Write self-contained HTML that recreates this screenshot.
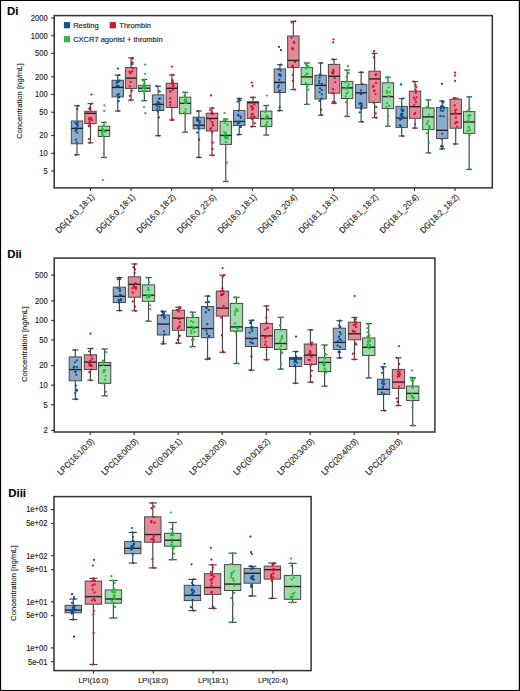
<!DOCTYPE html>
<html><head><meta charset="utf-8"><style>
html,body{margin:0;padding:0;background:#fff;}
body{width:520px;height:691px;overflow:hidden;}
svg{display:block;}
text{font-family:"Liberation Sans",sans-serif;fill:#222;stroke:#222;stroke-width:0.14px;}
.tl{font-size:8.4px;}
.tx{font-size:7.6px;}
.xl{font-size:8.5px;}
.yt{font-size:8.1px;}
.lg{font-size:7.5px;}
.pl{font-size:11.4px;font-weight:bold;fill:#000;}
.w{stroke:#4a4a4a;stroke-width:1.2;}
.b{stroke:#4a4a4a;stroke-width:1.0;fill-opacity:1;}
.m{stroke:#262626;stroke-width:1.4;}
.ax{stroke:#333;stroke-width:1.1;}
.fr{fill:none;stroke:#333;stroke-width:1.5;}
</style></head><body>
<svg width="520" height="691" viewBox="0 0 520 691">
<rect x="0" y="0" width="520" height="691" fill="#fff"/>
<text x="7" y="15" class="pl">Di</text>
<line x1="51.20" y1="18.06" x2="54.20" y2="18.06" class="ax"/>
<text x="0" y="0" class="tl" text-anchor="end" transform="translate(47.60,20.86) scale(0.9,1)">2000</text>
<line x1="51.20" y1="35.75" x2="54.20" y2="35.75" class="ax"/>
<text x="0" y="0" class="tl" text-anchor="end" transform="translate(47.60,38.55) scale(0.9,1)">1000</text>
<line x1="51.20" y1="53.44" x2="54.20" y2="53.44" class="ax"/>
<text x="0" y="0" class="tl" text-anchor="end" transform="translate(47.60,56.24) scale(0.9,1)">500</text>
<line x1="51.20" y1="76.81" x2="54.20" y2="76.81" class="ax"/>
<text x="0" y="0" class="tl" text-anchor="end" transform="translate(47.60,79.61) scale(0.9,1)">200</text>
<line x1="51.20" y1="94.50" x2="54.20" y2="94.50" class="ax"/>
<text x="0" y="0" class="tl" text-anchor="end" transform="translate(47.60,97.30) scale(0.9,1)">100</text>
<line x1="51.20" y1="112.19" x2="54.20" y2="112.19" class="ax"/>
<text x="0" y="0" class="tl" text-anchor="end" transform="translate(47.60,114.99) scale(0.9,1)">50</text>
<line x1="51.20" y1="135.56" x2="54.20" y2="135.56" class="ax"/>
<text x="0" y="0" class="tl" text-anchor="end" transform="translate(47.60,138.36) scale(0.9,1)">20</text>
<line x1="51.20" y1="153.25" x2="54.20" y2="153.25" class="ax"/>
<text x="0" y="0" class="tl" text-anchor="end" transform="translate(47.60,156.05) scale(0.9,1)">10</text>
<line x1="51.20" y1="170.94" x2="54.20" y2="170.94" class="ax"/>
<text x="0" y="0" class="tl" text-anchor="end" transform="translate(47.60,173.74) scale(0.9,1)">5</text>
<text x="0" y="0" class="yt" text-anchor="middle" transform="translate(21.90,101.20) rotate(-90) scale(0.95,1)">Concentration [ng/mL]</text>
<line x1="77.00" y1="105.80" x2="77.00" y2="121.00" class="w"/>
<line x1="77.00" y1="143.75" x2="77.00" y2="154.80" class="w"/>
<line x1="74.15" y1="105.80" x2="79.85" y2="105.80" class="w"/>
<line x1="74.15" y1="154.80" x2="79.85" y2="154.80" class="w"/>
<rect x="71.30" y="121.00" width="11.40" height="22.75" fill="#8dabc7" class="b"/>
<line x1="71.30" y1="128.40" x2="82.70" y2="128.40" class="m"/>
<line x1="90.50" y1="103.60" x2="90.50" y2="111.30" class="w"/>
<line x1="90.50" y1="123.60" x2="90.50" y2="142.80" class="w"/>
<line x1="87.65" y1="103.60" x2="93.35" y2="103.60" class="w"/>
<line x1="87.65" y1="142.80" x2="93.35" y2="142.80" class="w"/>
<rect x="84.80" y="111.30" width="11.40" height="12.30" fill="#e28a98" class="b"/>
<line x1="84.80" y1="113.30" x2="96.20" y2="113.30" class="m"/>
<line x1="104.00" y1="122.40" x2="104.00" y2="126.20" class="w"/>
<line x1="104.00" y1="136.50" x2="104.00" y2="157.50" class="w"/>
<line x1="101.15" y1="122.40" x2="106.85" y2="122.40" class="w"/>
<line x1="101.15" y1="157.50" x2="106.85" y2="157.50" class="w"/>
<rect x="98.30" y="126.20" width="11.40" height="10.30" fill="#9ddca7" class="b"/>
<line x1="98.30" y1="130.40" x2="109.70" y2="130.40" class="m"/>
<line x1="117.75" y1="75.20" x2="117.75" y2="80.30" class="w"/>
<line x1="117.75" y1="96.90" x2="117.75" y2="111.00" class="w"/>
<line x1="114.90" y1="75.20" x2="120.60" y2="75.20" class="w"/>
<line x1="114.90" y1="111.00" x2="120.60" y2="111.00" class="w"/>
<rect x="112.05" y="80.30" width="11.40" height="16.60" fill="#8dabc7" class="b"/>
<line x1="112.05" y1="87.40" x2="123.45" y2="87.40" class="m"/>
<line x1="131.05" y1="57.90" x2="131.05" y2="67.60" class="w"/>
<line x1="131.05" y1="88.40" x2="131.05" y2="100.10" class="w"/>
<line x1="128.20" y1="57.90" x2="133.90" y2="57.90" class="w"/>
<line x1="128.20" y1="100.10" x2="133.90" y2="100.10" class="w"/>
<rect x="125.35" y="67.60" width="11.40" height="20.80" fill="#e28a98" class="b"/>
<line x1="125.35" y1="78.10" x2="136.75" y2="78.10" class="m"/>
<line x1="144.35" y1="79.50" x2="144.35" y2="85.30" class="w"/>
<line x1="144.35" y1="91.40" x2="144.35" y2="100.70" class="w"/>
<line x1="141.50" y1="79.50" x2="147.20" y2="79.50" class="w"/>
<line x1="141.50" y1="100.70" x2="147.20" y2="100.70" class="w"/>
<rect x="138.65" y="85.30" width="11.40" height="6.10" fill="#9ddca7" class="b"/>
<line x1="138.65" y1="88.20" x2="150.05" y2="88.20" class="m"/>
<line x1="158.10" y1="86.20" x2="158.10" y2="94.90" class="w"/>
<line x1="158.10" y1="110.50" x2="158.10" y2="135.70" class="w"/>
<line x1="155.25" y1="86.20" x2="160.95" y2="86.20" class="w"/>
<line x1="155.25" y1="135.70" x2="160.95" y2="135.70" class="w"/>
<rect x="152.40" y="94.90" width="11.40" height="15.60" fill="#8dabc7" class="b"/>
<line x1="152.40" y1="104.40" x2="163.80" y2="104.40" class="m"/>
<line x1="171.85" y1="74.90" x2="171.85" y2="83.30" class="w"/>
<line x1="171.85" y1="107.50" x2="171.85" y2="120.00" class="w"/>
<line x1="169.00" y1="74.90" x2="174.70" y2="74.90" class="w"/>
<line x1="169.00" y1="120.00" x2="174.70" y2="120.00" class="w"/>
<rect x="166.15" y="83.30" width="11.40" height="24.20" fill="#e28a98" class="b"/>
<line x1="166.15" y1="88.30" x2="177.55" y2="88.30" class="m"/>
<line x1="185.10" y1="92.30" x2="185.10" y2="97.20" class="w"/>
<line x1="185.10" y1="113.70" x2="185.10" y2="132.20" class="w"/>
<line x1="182.25" y1="92.30" x2="187.95" y2="92.30" class="w"/>
<line x1="182.25" y1="132.20" x2="187.95" y2="132.20" class="w"/>
<rect x="179.40" y="97.20" width="11.40" height="16.50" fill="#9ddca7" class="b"/>
<line x1="179.40" y1="103.30" x2="190.80" y2="103.30" class="m"/>
<line x1="198.85" y1="111.00" x2="198.85" y2="117.20" class="w"/>
<line x1="198.85" y1="128.80" x2="198.85" y2="157.40" class="w"/>
<line x1="196.00" y1="111.00" x2="201.70" y2="111.00" class="w"/>
<line x1="196.00" y1="157.40" x2="201.70" y2="157.40" class="w"/>
<rect x="193.15" y="117.20" width="11.40" height="11.60" fill="#8dabc7" class="b"/>
<line x1="193.15" y1="125.20" x2="204.55" y2="125.20" class="m"/>
<line x1="212.00" y1="108.00" x2="212.00" y2="113.20" class="w"/>
<line x1="212.00" y1="131.00" x2="212.00" y2="155.30" class="w"/>
<line x1="209.15" y1="108.00" x2="214.85" y2="108.00" class="w"/>
<line x1="209.15" y1="155.30" x2="214.85" y2="155.30" class="w"/>
<rect x="206.30" y="113.20" width="11.40" height="17.80" fill="#e28a98" class="b"/>
<line x1="206.30" y1="118.40" x2="217.70" y2="118.40" class="m"/>
<line x1="225.75" y1="119.00" x2="225.75" y2="121.30" class="w"/>
<line x1="225.75" y1="144.40" x2="225.75" y2="181.50" class="w"/>
<line x1="222.90" y1="119.00" x2="228.60" y2="119.00" class="w"/>
<line x1="222.90" y1="181.50" x2="228.60" y2="181.50" class="w"/>
<rect x="220.05" y="121.30" width="11.40" height="23.10" fill="#9ddca7" class="b"/>
<line x1="220.05" y1="135.40" x2="231.45" y2="135.40" class="m"/>
<line x1="239.25" y1="98.50" x2="239.25" y2="110.40" class="w"/>
<line x1="239.25" y1="125.40" x2="239.25" y2="134.60" class="w"/>
<line x1="236.40" y1="98.50" x2="242.10" y2="98.50" class="w"/>
<line x1="236.40" y1="134.60" x2="242.10" y2="134.60" class="w"/>
<rect x="233.55" y="110.40" width="11.40" height="15.00" fill="#8dabc7" class="b"/>
<line x1="233.55" y1="121.50" x2="244.95" y2="121.50" class="m"/>
<line x1="252.95" y1="97.40" x2="252.95" y2="101.70" class="w"/>
<line x1="252.95" y1="118.40" x2="252.95" y2="126.60" class="w"/>
<line x1="250.10" y1="97.40" x2="255.80" y2="97.40" class="w"/>
<line x1="250.10" y1="126.60" x2="255.80" y2="126.60" class="w"/>
<rect x="247.25" y="101.70" width="11.40" height="16.70" fill="#e28a98" class="b"/>
<line x1="247.25" y1="102.70" x2="258.65" y2="102.70" class="m"/>
<line x1="266.20" y1="105.50" x2="266.20" y2="111.10" class="w"/>
<line x1="266.20" y1="126.60" x2="266.20" y2="135.10" class="w"/>
<line x1="263.35" y1="105.50" x2="269.05" y2="105.50" class="w"/>
<line x1="263.35" y1="135.10" x2="269.05" y2="135.10" class="w"/>
<rect x="260.50" y="111.10" width="11.40" height="15.50" fill="#9ddca7" class="b"/>
<line x1="260.50" y1="118.60" x2="271.90" y2="118.60" class="m"/>
<line x1="279.90" y1="64.70" x2="279.90" y2="69.00" class="w"/>
<line x1="279.90" y1="92.50" x2="279.90" y2="110.60" class="w"/>
<line x1="277.05" y1="64.70" x2="282.75" y2="64.70" class="w"/>
<line x1="277.05" y1="110.60" x2="282.75" y2="110.60" class="w"/>
<rect x="274.20" y="69.00" width="11.40" height="23.50" fill="#8dabc7" class="b"/>
<line x1="274.20" y1="82.40" x2="285.60" y2="82.40" class="m"/>
<line x1="293.35" y1="21.30" x2="293.35" y2="36.00" class="w"/>
<line x1="293.35" y1="67.60" x2="293.35" y2="89.60" class="w"/>
<line x1="290.50" y1="21.30" x2="296.20" y2="21.30" class="w"/>
<line x1="290.50" y1="89.60" x2="296.20" y2="89.60" class="w"/>
<rect x="287.65" y="36.00" width="11.40" height="31.60" fill="#e28a98" class="b"/>
<line x1="287.65" y1="60.40" x2="299.05" y2="60.40" class="m"/>
<line x1="306.85" y1="63.00" x2="306.85" y2="67.60" class="w"/>
<line x1="306.85" y1="84.50" x2="306.85" y2="104.40" class="w"/>
<line x1="304.00" y1="63.00" x2="309.70" y2="63.00" class="w"/>
<line x1="304.00" y1="104.40" x2="309.70" y2="104.40" class="w"/>
<rect x="301.15" y="67.60" width="11.40" height="16.90" fill="#9ddca7" class="b"/>
<line x1="301.15" y1="76.90" x2="312.55" y2="76.90" class="m"/>
<line x1="320.60" y1="63.00" x2="320.60" y2="75.30" class="w"/>
<line x1="320.60" y1="99.00" x2="320.60" y2="115.10" class="w"/>
<line x1="317.75" y1="63.00" x2="323.45" y2="63.00" class="w"/>
<line x1="317.75" y1="115.10" x2="323.45" y2="115.10" class="w"/>
<rect x="314.90" y="75.30" width="11.40" height="23.70" fill="#8dabc7" class="b"/>
<line x1="314.90" y1="85.40" x2="326.30" y2="85.40" class="m"/>
<line x1="334.10" y1="59.40" x2="334.10" y2="64.40" class="w"/>
<line x1="334.10" y1="93.20" x2="334.10" y2="103.20" class="w"/>
<line x1="331.25" y1="59.40" x2="336.95" y2="59.40" class="w"/>
<line x1="331.25" y1="103.20" x2="336.95" y2="103.20" class="w"/>
<rect x="328.40" y="64.40" width="11.40" height="28.80" fill="#e28a98" class="b"/>
<line x1="328.40" y1="76.30" x2="339.80" y2="76.30" class="m"/>
<line x1="347.15" y1="70.10" x2="347.15" y2="81.40" class="w"/>
<line x1="347.15" y1="98.50" x2="347.15" y2="116.40" class="w"/>
<line x1="344.30" y1="70.10" x2="350.00" y2="70.10" class="w"/>
<line x1="344.30" y1="116.40" x2="350.00" y2="116.40" class="w"/>
<rect x="341.45" y="81.40" width="11.40" height="17.10" fill="#9ddca7" class="b"/>
<line x1="341.45" y1="87.90" x2="352.85" y2="87.90" class="m"/>
<line x1="361.15" y1="72.30" x2="361.15" y2="84.60" class="w"/>
<line x1="361.15" y1="108.10" x2="361.15" y2="121.80" class="w"/>
<line x1="358.30" y1="72.30" x2="364.00" y2="72.30" class="w"/>
<line x1="358.30" y1="121.80" x2="364.00" y2="121.80" class="w"/>
<rect x="355.45" y="84.60" width="11.40" height="23.50" fill="#8dabc7" class="b"/>
<line x1="355.45" y1="92.80" x2="366.85" y2="92.80" class="m"/>
<line x1="374.60" y1="53.40" x2="374.60" y2="71.20" class="w"/>
<line x1="374.60" y1="102.40" x2="374.60" y2="117.70" class="w"/>
<line x1="371.75" y1="53.40" x2="377.45" y2="53.40" class="w"/>
<line x1="371.75" y1="117.70" x2="377.45" y2="117.70" class="w"/>
<rect x="368.90" y="71.20" width="11.40" height="31.20" fill="#e28a98" class="b"/>
<line x1="368.90" y1="78.90" x2="380.30" y2="78.90" class="m"/>
<line x1="387.90" y1="77.30" x2="387.90" y2="82.80" class="w"/>
<line x1="387.90" y1="108.60" x2="387.90" y2="126.20" class="w"/>
<line x1="385.05" y1="77.30" x2="390.75" y2="77.30" class="w"/>
<line x1="385.05" y1="126.20" x2="390.75" y2="126.20" class="w"/>
<rect x="382.20" y="82.80" width="11.40" height="25.80" fill="#9ddca7" class="b"/>
<line x1="382.20" y1="96.60" x2="393.60" y2="96.60" class="m"/>
<line x1="401.70" y1="98.50" x2="401.70" y2="106.40" class="w"/>
<line x1="401.70" y1="127.40" x2="401.70" y2="136.00" class="w"/>
<line x1="398.85" y1="98.50" x2="404.55" y2="98.50" class="w"/>
<line x1="398.85" y1="136.00" x2="404.55" y2="136.00" class="w"/>
<rect x="396.00" y="106.40" width="11.40" height="21.00" fill="#8dabc7" class="b"/>
<line x1="396.00" y1="118.00" x2="407.40" y2="118.00" class="m"/>
<line x1="415.05" y1="81.50" x2="415.05" y2="91.20" class="w"/>
<line x1="415.05" y1="118.30" x2="415.05" y2="128.10" class="w"/>
<line x1="412.20" y1="81.50" x2="417.90" y2="81.50" class="w"/>
<line x1="412.20" y1="128.10" x2="417.90" y2="128.10" class="w"/>
<rect x="409.35" y="91.20" width="11.40" height="27.10" fill="#e28a98" class="b"/>
<line x1="409.35" y1="106.70" x2="420.75" y2="106.70" class="m"/>
<line x1="428.40" y1="99.90" x2="428.40" y2="107.90" class="w"/>
<line x1="428.40" y1="129.60" x2="428.40" y2="152.90" class="w"/>
<line x1="425.55" y1="99.90" x2="431.25" y2="99.90" class="w"/>
<line x1="425.55" y1="152.90" x2="431.25" y2="152.90" class="w"/>
<rect x="422.70" y="107.90" width="11.40" height="21.70" fill="#9ddca7" class="b"/>
<line x1="422.70" y1="116.90" x2="434.10" y2="116.90" class="m"/>
<line x1="442.15" y1="101.10" x2="442.15" y2="107.40" class="w"/>
<line x1="442.15" y1="138.50" x2="442.15" y2="148.90" class="w"/>
<line x1="439.30" y1="101.10" x2="445.00" y2="101.10" class="w"/>
<line x1="439.30" y1="148.90" x2="445.00" y2="148.90" class="w"/>
<rect x="436.45" y="107.40" width="11.40" height="31.10" fill="#8dabc7" class="b"/>
<line x1="436.45" y1="130.30" x2="447.85" y2="130.30" class="m"/>
<line x1="455.70" y1="98.20" x2="455.70" y2="99.20" class="w"/>
<line x1="455.70" y1="128.20" x2="455.70" y2="144.00" class="w"/>
<line x1="452.85" y1="98.20" x2="458.55" y2="98.20" class="w"/>
<line x1="452.85" y1="144.00" x2="458.55" y2="144.00" class="w"/>
<rect x="450.00" y="99.20" width="11.40" height="29.00" fill="#e28a98" class="b"/>
<line x1="450.00" y1="113.80" x2="461.40" y2="113.80" class="m"/>
<line x1="469.15" y1="96.80" x2="469.15" y2="111.60" class="w"/>
<line x1="469.15" y1="133.40" x2="469.15" y2="169.40" class="w"/>
<line x1="466.30" y1="96.80" x2="472.00" y2="96.80" class="w"/>
<line x1="466.30" y1="169.40" x2="472.00" y2="169.40" class="w"/>
<rect x="463.45" y="111.60" width="11.40" height="21.80" fill="#9ddca7" class="b"/>
<line x1="463.45" y1="122.00" x2="474.85" y2="122.00" class="m"/>
<circle cx="78.14" cy="105.80" r="1.12" fill="#0b4d91"/>
<circle cx="75.85" cy="154.80" r="1.12" fill="#0b4d91"/>
<circle cx="77.29" cy="124.43" r="1.12" fill="#0b4d91"/>
<circle cx="77.50" cy="122.65" r="1.12" fill="#0b4d91"/>
<circle cx="76.54" cy="129.32" r="1.12" fill="#0b4d91"/>
<circle cx="77.17" cy="132.54" r="1.12" fill="#0b4d91"/>
<circle cx="75.43" cy="130.87" r="1.12" fill="#0b4d91"/>
<circle cx="75.41" cy="123.06" r="1.12" fill="#0b4d91"/>
<circle cx="75.94" cy="139.81" r="1.12" fill="#0b4d91"/>
<circle cx="77.65" cy="126.08" r="1.12" fill="#0b4d91"/>
<circle cx="76.74" cy="142.56" r="1.12" fill="#0b4d91"/>
<circle cx="76.33" cy="130.02" r="1.12" fill="#0b4d91"/>
<circle cx="77.31" cy="109.09" r="1.12" fill="#0b4d91"/>
<circle cx="76.83" cy="124.28" r="1.12" fill="#0b4d91"/>
<circle cx="76.28" cy="128.02" r="1.12" fill="#0b4d91"/>
<circle cx="91.66" cy="103.60" r="1.12" fill="#d90d2b"/>
<circle cx="89.72" cy="142.80" r="1.12" fill="#d90d2b"/>
<circle cx="90.09" cy="125.61" r="1.12" fill="#d90d2b"/>
<circle cx="91.11" cy="117.76" r="1.12" fill="#d90d2b"/>
<circle cx="88.78" cy="126.22" r="1.12" fill="#d90d2b"/>
<circle cx="90.36" cy="109.39" r="1.12" fill="#d90d2b"/>
<circle cx="89.30" cy="108.85" r="1.12" fill="#d90d2b"/>
<circle cx="89.12" cy="119.52" r="1.12" fill="#d90d2b"/>
<circle cx="88.91" cy="139.12" r="1.12" fill="#d90d2b"/>
<circle cx="91.47" cy="119.85" r="1.12" fill="#d90d2b"/>
<circle cx="89.17" cy="118.43" r="1.12" fill="#d90d2b"/>
<circle cx="89.59" cy="121.63" r="1.12" fill="#d90d2b"/>
<circle cx="90.11" cy="107.30" r="1.12" fill="#d90d2b"/>
<circle cx="91.84" cy="119.93" r="1.12" fill="#d90d2b"/>
<circle cx="88.99" cy="123.52" r="1.12" fill="#d90d2b"/>
<circle cx="91.50" cy="94.50" r="1.12" fill="#d90d2b"/>
<circle cx="105.01" cy="122.40" r="1.12" fill="#22b838"/>
<circle cx="105.35" cy="157.50" r="1.12" fill="#22b838"/>
<circle cx="105.07" cy="131.86" r="1.12" fill="#22b838"/>
<circle cx="103.61" cy="153.12" r="1.12" fill="#22b838"/>
<circle cx="103.64" cy="130.48" r="1.12" fill="#22b838"/>
<circle cx="102.57" cy="135.31" r="1.12" fill="#22b838"/>
<circle cx="104.48" cy="125.96" r="1.12" fill="#22b838"/>
<circle cx="102.42" cy="128.60" r="1.12" fill="#22b838"/>
<circle cx="102.44" cy="132.27" r="1.12" fill="#22b838"/>
<circle cx="102.95" cy="126.24" r="1.12" fill="#22b838"/>
<circle cx="102.78" cy="130.00" r="1.12" fill="#22b838"/>
<circle cx="103.42" cy="136.02" r="1.12" fill="#22b838"/>
<circle cx="102.39" cy="131.51" r="1.12" fill="#22b838"/>
<circle cx="102.20" cy="133.16" r="1.12" fill="#22b838"/>
<circle cx="102.74" cy="135.47" r="1.12" fill="#22b838"/>
<circle cx="104.40" cy="105.30" r="1.12" fill="#22b838"/>
<circle cx="104.20" cy="111.00" r="1.12" fill="#22b838"/>
<circle cx="102.80" cy="180.00" r="1.12" fill="#22b838"/>
<circle cx="119.06" cy="75.20" r="1.12" fill="#0b4d91"/>
<circle cx="118.46" cy="111.00" r="1.12" fill="#0b4d91"/>
<circle cx="116.89" cy="86.34" r="1.12" fill="#0b4d91"/>
<circle cx="117.27" cy="94.81" r="1.12" fill="#0b4d91"/>
<circle cx="116.55" cy="82.77" r="1.12" fill="#0b4d91"/>
<circle cx="118.73" cy="86.07" r="1.12" fill="#0b4d91"/>
<circle cx="117.87" cy="82.34" r="1.12" fill="#0b4d91"/>
<circle cx="118.75" cy="101.06" r="1.12" fill="#0b4d91"/>
<circle cx="117.14" cy="81.73" r="1.12" fill="#0b4d91"/>
<circle cx="116.75" cy="85.99" r="1.12" fill="#0b4d91"/>
<circle cx="118.87" cy="94.06" r="1.12" fill="#0b4d91"/>
<circle cx="119.50" cy="80.68" r="1.12" fill="#0b4d91"/>
<circle cx="119.02" cy="97.55" r="1.12" fill="#0b4d91"/>
<circle cx="118.85" cy="80.75" r="1.12" fill="#0b4d91"/>
<circle cx="118.90" cy="96.54" r="1.12" fill="#0b4d91"/>
<circle cx="117.90" cy="68.50" r="1.12" fill="#0b4d91"/>
<circle cx="132.09" cy="57.90" r="1.12" fill="#d90d2b"/>
<circle cx="130.45" cy="100.10" r="1.12" fill="#d90d2b"/>
<circle cx="132.13" cy="64.22" r="1.12" fill="#d90d2b"/>
<circle cx="132.75" cy="68.20" r="1.12" fill="#d90d2b"/>
<circle cx="130.68" cy="73.41" r="1.12" fill="#d90d2b"/>
<circle cx="130.69" cy="82.00" r="1.12" fill="#d90d2b"/>
<circle cx="132.66" cy="58.86" r="1.12" fill="#d90d2b"/>
<circle cx="131.86" cy="90.73" r="1.12" fill="#d90d2b"/>
<circle cx="129.86" cy="72.32" r="1.12" fill="#d90d2b"/>
<circle cx="129.71" cy="71.85" r="1.12" fill="#d90d2b"/>
<circle cx="129.79" cy="86.33" r="1.12" fill="#d90d2b"/>
<circle cx="132.51" cy="62.70" r="1.12" fill="#d90d2b"/>
<circle cx="132.15" cy="62.60" r="1.12" fill="#d90d2b"/>
<circle cx="129.78" cy="95.79" r="1.12" fill="#d90d2b"/>
<circle cx="132.23" cy="71.31" r="1.12" fill="#d90d2b"/>
<circle cx="144.43" cy="79.50" r="1.12" fill="#22b838"/>
<circle cx="142.62" cy="100.70" r="1.12" fill="#22b838"/>
<circle cx="144.13" cy="93.14" r="1.12" fill="#22b838"/>
<circle cx="143.21" cy="86.10" r="1.12" fill="#22b838"/>
<circle cx="142.56" cy="91.22" r="1.12" fill="#22b838"/>
<circle cx="145.43" cy="88.51" r="1.12" fill="#22b838"/>
<circle cx="143.17" cy="80.64" r="1.12" fill="#22b838"/>
<circle cx="144.25" cy="84.66" r="1.12" fill="#22b838"/>
<circle cx="145.16" cy="86.77" r="1.12" fill="#22b838"/>
<circle cx="144.55" cy="86.88" r="1.12" fill="#22b838"/>
<circle cx="143.72" cy="86.10" r="1.12" fill="#22b838"/>
<circle cx="144.42" cy="83.64" r="1.12" fill="#22b838"/>
<circle cx="144.55" cy="90.82" r="1.12" fill="#22b838"/>
<circle cx="145.37" cy="90.90" r="1.12" fill="#22b838"/>
<circle cx="142.93" cy="88.54" r="1.12" fill="#22b838"/>
<circle cx="145.20" cy="64.70" r="1.12" fill="#22b838"/>
<circle cx="145.20" cy="74.00" r="1.12" fill="#22b838"/>
<circle cx="144.00" cy="107.00" r="1.12" fill="#22b838"/>
<circle cx="145.30" cy="113.20" r="1.12" fill="#22b838"/>
<circle cx="156.56" cy="86.20" r="1.12" fill="#0b4d91"/>
<circle cx="158.71" cy="135.70" r="1.12" fill="#0b4d91"/>
<circle cx="159.12" cy="98.78" r="1.12" fill="#0b4d91"/>
<circle cx="159.53" cy="106.95" r="1.12" fill="#0b4d91"/>
<circle cx="156.86" cy="103.66" r="1.12" fill="#0b4d91"/>
<circle cx="158.88" cy="117.36" r="1.12" fill="#0b4d91"/>
<circle cx="158.68" cy="102.79" r="1.12" fill="#0b4d91"/>
<circle cx="156.81" cy="105.71" r="1.12" fill="#0b4d91"/>
<circle cx="159.48" cy="103.22" r="1.12" fill="#0b4d91"/>
<circle cx="159.78" cy="109.59" r="1.12" fill="#0b4d91"/>
<circle cx="157.09" cy="108.57" r="1.12" fill="#0b4d91"/>
<circle cx="159.73" cy="91.46" r="1.12" fill="#0b4d91"/>
<circle cx="157.73" cy="111.55" r="1.12" fill="#0b4d91"/>
<circle cx="158.05" cy="101.80" r="1.12" fill="#0b4d91"/>
<circle cx="159.86" cy="98.65" r="1.12" fill="#0b4d91"/>
<circle cx="173.36" cy="74.90" r="1.12" fill="#d90d2b"/>
<circle cx="172.10" cy="120.00" r="1.12" fill="#d90d2b"/>
<circle cx="172.57" cy="81.11" r="1.12" fill="#d90d2b"/>
<circle cx="170.37" cy="91.51" r="1.12" fill="#d90d2b"/>
<circle cx="170.26" cy="91.01" r="1.12" fill="#d90d2b"/>
<circle cx="172.53" cy="80.03" r="1.12" fill="#d90d2b"/>
<circle cx="171.58" cy="83.74" r="1.12" fill="#d90d2b"/>
<circle cx="170.31" cy="98.40" r="1.12" fill="#d90d2b"/>
<circle cx="173.43" cy="84.86" r="1.12" fill="#d90d2b"/>
<circle cx="172.33" cy="119.44" r="1.12" fill="#d90d2b"/>
<circle cx="172.94" cy="89.73" r="1.12" fill="#d90d2b"/>
<circle cx="170.35" cy="102.15" r="1.12" fill="#d90d2b"/>
<circle cx="173.13" cy="86.44" r="1.12" fill="#d90d2b"/>
<circle cx="170.29" cy="105.36" r="1.12" fill="#d90d2b"/>
<circle cx="173.16" cy="82.90" r="1.12" fill="#d90d2b"/>
<circle cx="171.80" cy="66.60" r="1.12" fill="#d90d2b"/>
<circle cx="183.68" cy="92.30" r="1.12" fill="#22b838"/>
<circle cx="186.25" cy="132.20" r="1.12" fill="#22b838"/>
<circle cx="184.86" cy="102.80" r="1.12" fill="#22b838"/>
<circle cx="185.08" cy="112.49" r="1.12" fill="#22b838"/>
<circle cx="186.30" cy="99.33" r="1.12" fill="#22b838"/>
<circle cx="184.72" cy="101.13" r="1.12" fill="#22b838"/>
<circle cx="185.12" cy="99.86" r="1.12" fill="#22b838"/>
<circle cx="185.78" cy="100.53" r="1.12" fill="#22b838"/>
<circle cx="186.84" cy="102.23" r="1.12" fill="#22b838"/>
<circle cx="184.53" cy="95.58" r="1.12" fill="#22b838"/>
<circle cx="186.30" cy="102.93" r="1.12" fill="#22b838"/>
<circle cx="185.84" cy="101.33" r="1.12" fill="#22b838"/>
<circle cx="185.59" cy="109.30" r="1.12" fill="#22b838"/>
<circle cx="184.76" cy="100.33" r="1.12" fill="#22b838"/>
<circle cx="184.55" cy="112.62" r="1.12" fill="#22b838"/>
<circle cx="197.77" cy="111.00" r="1.12" fill="#0b4d91"/>
<circle cx="198.87" cy="157.40" r="1.12" fill="#0b4d91"/>
<circle cx="197.07" cy="118.71" r="1.12" fill="#0b4d91"/>
<circle cx="198.00" cy="125.79" r="1.12" fill="#0b4d91"/>
<circle cx="197.37" cy="119.09" r="1.12" fill="#0b4d91"/>
<circle cx="198.49" cy="126.96" r="1.12" fill="#0b4d91"/>
<circle cx="197.20" cy="132.57" r="1.12" fill="#0b4d91"/>
<circle cx="197.13" cy="120.60" r="1.12" fill="#0b4d91"/>
<circle cx="198.15" cy="119.03" r="1.12" fill="#0b4d91"/>
<circle cx="197.89" cy="120.25" r="1.12" fill="#0b4d91"/>
<circle cx="199.16" cy="139.70" r="1.12" fill="#0b4d91"/>
<circle cx="198.96" cy="128.40" r="1.12" fill="#0b4d91"/>
<circle cx="199.75" cy="121.34" r="1.12" fill="#0b4d91"/>
<circle cx="199.42" cy="121.63" r="1.12" fill="#0b4d91"/>
<circle cx="199.63" cy="123.03" r="1.12" fill="#0b4d91"/>
<circle cx="212.45" cy="108.00" r="1.12" fill="#d90d2b"/>
<circle cx="212.65" cy="155.30" r="1.12" fill="#d90d2b"/>
<circle cx="211.96" cy="112.33" r="1.12" fill="#d90d2b"/>
<circle cx="210.21" cy="110.10" r="1.12" fill="#d90d2b"/>
<circle cx="213.07" cy="113.98" r="1.12" fill="#d90d2b"/>
<circle cx="212.89" cy="142.52" r="1.12" fill="#d90d2b"/>
<circle cx="212.01" cy="132.04" r="1.12" fill="#d90d2b"/>
<circle cx="212.13" cy="122.18" r="1.12" fill="#d90d2b"/>
<circle cx="212.57" cy="148.91" r="1.12" fill="#d90d2b"/>
<circle cx="210.44" cy="129.09" r="1.12" fill="#d90d2b"/>
<circle cx="212.85" cy="125.54" r="1.12" fill="#d90d2b"/>
<circle cx="211.11" cy="113.75" r="1.12" fill="#d90d2b"/>
<circle cx="210.47" cy="119.62" r="1.12" fill="#d90d2b"/>
<circle cx="211.16" cy="128.08" r="1.12" fill="#d90d2b"/>
<circle cx="212.83" cy="124.37" r="1.12" fill="#d90d2b"/>
<circle cx="211.00" cy="95.40" r="1.12" fill="#d90d2b"/>
<circle cx="224.67" cy="119.00" r="1.12" fill="#22b838"/>
<circle cx="227.47" cy="181.50" r="1.12" fill="#22b838"/>
<circle cx="227.32" cy="138.39" r="1.12" fill="#22b838"/>
<circle cx="224.01" cy="120.81" r="1.12" fill="#22b838"/>
<circle cx="225.60" cy="137.09" r="1.12" fill="#22b838"/>
<circle cx="226.90" cy="162.69" r="1.12" fill="#22b838"/>
<circle cx="227.44" cy="124.71" r="1.12" fill="#22b838"/>
<circle cx="225.57" cy="138.47" r="1.12" fill="#22b838"/>
<circle cx="224.92" cy="134.42" r="1.12" fill="#22b838"/>
<circle cx="224.71" cy="122.70" r="1.12" fill="#22b838"/>
<circle cx="227.35" cy="136.82" r="1.12" fill="#22b838"/>
<circle cx="224.71" cy="136.91" r="1.12" fill="#22b838"/>
<circle cx="226.04" cy="133.23" r="1.12" fill="#22b838"/>
<circle cx="224.46" cy="132.07" r="1.12" fill="#22b838"/>
<circle cx="225.84" cy="141.94" r="1.12" fill="#22b838"/>
<circle cx="224.50" cy="112.90" r="1.12" fill="#22b838"/>
<circle cx="238.99" cy="98.50" r="1.12" fill="#0b4d91"/>
<circle cx="238.44" cy="134.60" r="1.12" fill="#0b4d91"/>
<circle cx="237.62" cy="101.73" r="1.12" fill="#0b4d91"/>
<circle cx="237.82" cy="123.70" r="1.12" fill="#0b4d91"/>
<circle cx="240.45" cy="100.39" r="1.12" fill="#0b4d91"/>
<circle cx="238.48" cy="110.77" r="1.12" fill="#0b4d91"/>
<circle cx="240.82" cy="117.78" r="1.12" fill="#0b4d91"/>
<circle cx="238.35" cy="114.93" r="1.12" fill="#0b4d91"/>
<circle cx="238.41" cy="115.56" r="1.12" fill="#0b4d91"/>
<circle cx="239.29" cy="123.00" r="1.12" fill="#0b4d91"/>
<circle cx="238.13" cy="121.66" r="1.12" fill="#0b4d91"/>
<circle cx="238.79" cy="99.87" r="1.12" fill="#0b4d91"/>
<circle cx="240.89" cy="126.67" r="1.12" fill="#0b4d91"/>
<circle cx="240.63" cy="116.29" r="1.12" fill="#0b4d91"/>
<circle cx="240.37" cy="127.20" r="1.12" fill="#0b4d91"/>
<circle cx="252.94" cy="97.40" r="1.12" fill="#d90d2b"/>
<circle cx="251.94" cy="126.60" r="1.12" fill="#d90d2b"/>
<circle cx="254.41" cy="116.95" r="1.12" fill="#d90d2b"/>
<circle cx="254.74" cy="123.24" r="1.12" fill="#d90d2b"/>
<circle cx="252.77" cy="113.93" r="1.12" fill="#d90d2b"/>
<circle cx="251.65" cy="114.27" r="1.12" fill="#d90d2b"/>
<circle cx="251.84" cy="106.48" r="1.12" fill="#d90d2b"/>
<circle cx="251.48" cy="117.18" r="1.12" fill="#d90d2b"/>
<circle cx="252.38" cy="109.59" r="1.12" fill="#d90d2b"/>
<circle cx="251.48" cy="106.67" r="1.12" fill="#d90d2b"/>
<circle cx="252.01" cy="119.35" r="1.12" fill="#d90d2b"/>
<circle cx="252.08" cy="106.72" r="1.12" fill="#d90d2b"/>
<circle cx="253.20" cy="108.29" r="1.12" fill="#d90d2b"/>
<circle cx="254.34" cy="104.40" r="1.12" fill="#d90d2b"/>
<circle cx="253.85" cy="116.83" r="1.12" fill="#d90d2b"/>
<circle cx="251.80" cy="82.60" r="1.12" fill="#d90d2b"/>
<circle cx="252.60" cy="85.80" r="1.12" fill="#d90d2b"/>
<circle cx="267.74" cy="105.50" r="1.12" fill="#22b838"/>
<circle cx="267.37" cy="135.10" r="1.12" fill="#22b838"/>
<circle cx="267.48" cy="117.52" r="1.12" fill="#22b838"/>
<circle cx="267.90" cy="116.94" r="1.12" fill="#22b838"/>
<circle cx="265.29" cy="112.06" r="1.12" fill="#22b838"/>
<circle cx="264.79" cy="126.10" r="1.12" fill="#22b838"/>
<circle cx="264.96" cy="118.90" r="1.12" fill="#22b838"/>
<circle cx="266.28" cy="124.47" r="1.12" fill="#22b838"/>
<circle cx="266.86" cy="115.30" r="1.12" fill="#22b838"/>
<circle cx="267.79" cy="117.30" r="1.12" fill="#22b838"/>
<circle cx="267.00" cy="125.89" r="1.12" fill="#22b838"/>
<circle cx="266.73" cy="126.62" r="1.12" fill="#22b838"/>
<circle cx="267.15" cy="122.10" r="1.12" fill="#22b838"/>
<circle cx="266.05" cy="108.71" r="1.12" fill="#22b838"/>
<circle cx="266.39" cy="117.17" r="1.12" fill="#22b838"/>
<circle cx="267.00" cy="95.50" r="1.12" fill="#22b838"/>
<circle cx="280.64" cy="64.70" r="1.12" fill="#0b4d91"/>
<circle cx="279.21" cy="110.60" r="1.12" fill="#0b4d91"/>
<circle cx="278.18" cy="87.38" r="1.12" fill="#0b4d91"/>
<circle cx="279.89" cy="90.62" r="1.12" fill="#0b4d91"/>
<circle cx="280.53" cy="76.14" r="1.12" fill="#0b4d91"/>
<circle cx="279.61" cy="74.92" r="1.12" fill="#0b4d91"/>
<circle cx="279.03" cy="85.42" r="1.12" fill="#0b4d91"/>
<circle cx="280.50" cy="70.65" r="1.12" fill="#0b4d91"/>
<circle cx="281.43" cy="82.70" r="1.12" fill="#0b4d91"/>
<circle cx="278.92" cy="74.25" r="1.12" fill="#0b4d91"/>
<circle cx="278.22" cy="69.25" r="1.12" fill="#0b4d91"/>
<circle cx="279.32" cy="79.83" r="1.12" fill="#0b4d91"/>
<circle cx="279.61" cy="107.35" r="1.12" fill="#0b4d91"/>
<circle cx="280.56" cy="74.52" r="1.12" fill="#0b4d91"/>
<circle cx="278.81" cy="91.57" r="1.12" fill="#0b4d91"/>
<circle cx="279.00" cy="46.90" r="1.12" fill="#0b4d91"/>
<circle cx="281.00" cy="50.20" r="1.12" fill="#0b4d91"/>
<circle cx="295.14" cy="21.30" r="1.12" fill="#d90d2b"/>
<circle cx="294.90" cy="89.60" r="1.12" fill="#d90d2b"/>
<circle cx="292.74" cy="74.97" r="1.12" fill="#d90d2b"/>
<circle cx="292.22" cy="66.65" r="1.12" fill="#d90d2b"/>
<circle cx="294.92" cy="61.91" r="1.12" fill="#d90d2b"/>
<circle cx="294.24" cy="43.00" r="1.12" fill="#d90d2b"/>
<circle cx="291.66" cy="22.41" r="1.12" fill="#d90d2b"/>
<circle cx="293.94" cy="41.92" r="1.12" fill="#d90d2b"/>
<circle cx="292.91" cy="49.18" r="1.12" fill="#d90d2b"/>
<circle cx="292.90" cy="65.98" r="1.12" fill="#d90d2b"/>
<circle cx="292.74" cy="48.43" r="1.12" fill="#d90d2b"/>
<circle cx="292.16" cy="66.78" r="1.12" fill="#d90d2b"/>
<circle cx="291.56" cy="37.64" r="1.12" fill="#d90d2b"/>
<circle cx="292.56" cy="48.43" r="1.12" fill="#d90d2b"/>
<circle cx="292.82" cy="80.98" r="1.12" fill="#d90d2b"/>
<circle cx="305.06" cy="63.00" r="1.12" fill="#22b838"/>
<circle cx="307.77" cy="104.40" r="1.12" fill="#22b838"/>
<circle cx="308.35" cy="63.26" r="1.12" fill="#22b838"/>
<circle cx="307.33" cy="73.63" r="1.12" fill="#22b838"/>
<circle cx="308.45" cy="89.70" r="1.12" fill="#22b838"/>
<circle cx="305.14" cy="75.60" r="1.12" fill="#22b838"/>
<circle cx="305.89" cy="83.14" r="1.12" fill="#22b838"/>
<circle cx="306.76" cy="73.76" r="1.12" fill="#22b838"/>
<circle cx="308.49" cy="66.49" r="1.12" fill="#22b838"/>
<circle cx="308.48" cy="84.62" r="1.12" fill="#22b838"/>
<circle cx="306.44" cy="68.66" r="1.12" fill="#22b838"/>
<circle cx="305.95" cy="64.71" r="1.12" fill="#22b838"/>
<circle cx="306.60" cy="67.03" r="1.12" fill="#22b838"/>
<circle cx="306.83" cy="86.84" r="1.12" fill="#22b838"/>
<circle cx="308.39" cy="67.01" r="1.12" fill="#22b838"/>
<circle cx="321.23" cy="63.00" r="1.12" fill="#0b4d91"/>
<circle cx="321.49" cy="115.10" r="1.12" fill="#0b4d91"/>
<circle cx="321.85" cy="94.32" r="1.12" fill="#0b4d91"/>
<circle cx="321.19" cy="109.66" r="1.12" fill="#0b4d91"/>
<circle cx="319.24" cy="83.07" r="1.12" fill="#0b4d91"/>
<circle cx="321.83" cy="83.88" r="1.12" fill="#0b4d91"/>
<circle cx="319.86" cy="74.38" r="1.12" fill="#0b4d91"/>
<circle cx="320.84" cy="75.15" r="1.12" fill="#0b4d91"/>
<circle cx="320.14" cy="88.40" r="1.12" fill="#0b4d91"/>
<circle cx="321.46" cy="98.53" r="1.12" fill="#0b4d91"/>
<circle cx="319.52" cy="100.92" r="1.12" fill="#0b4d91"/>
<circle cx="319.69" cy="77.59" r="1.12" fill="#0b4d91"/>
<circle cx="319.68" cy="92.12" r="1.12" fill="#0b4d91"/>
<circle cx="319.35" cy="80.85" r="1.12" fill="#0b4d91"/>
<circle cx="321.98" cy="90.00" r="1.12" fill="#0b4d91"/>
<circle cx="333.08" cy="59.40" r="1.12" fill="#d90d2b"/>
<circle cx="333.63" cy="103.20" r="1.12" fill="#d90d2b"/>
<circle cx="332.81" cy="73.80" r="1.12" fill="#d90d2b"/>
<circle cx="333.03" cy="92.98" r="1.12" fill="#d90d2b"/>
<circle cx="333.22" cy="71.06" r="1.12" fill="#d90d2b"/>
<circle cx="334.46" cy="103.06" r="1.12" fill="#d90d2b"/>
<circle cx="334.65" cy="78.07" r="1.12" fill="#d90d2b"/>
<circle cx="333.03" cy="101.87" r="1.12" fill="#d90d2b"/>
<circle cx="332.34" cy="72.86" r="1.12" fill="#d90d2b"/>
<circle cx="333.48" cy="69.86" r="1.12" fill="#d90d2b"/>
<circle cx="334.74" cy="102.11" r="1.12" fill="#d90d2b"/>
<circle cx="332.97" cy="89.34" r="1.12" fill="#d90d2b"/>
<circle cx="333.42" cy="71.89" r="1.12" fill="#d90d2b"/>
<circle cx="333.03" cy="93.47" r="1.12" fill="#d90d2b"/>
<circle cx="335.16" cy="82.25" r="1.12" fill="#d90d2b"/>
<circle cx="333.50" cy="39.40" r="1.12" fill="#d90d2b"/>
<circle cx="333.20" cy="42.30" r="1.12" fill="#d90d2b"/>
<circle cx="347.01" cy="70.10" r="1.12" fill="#22b838"/>
<circle cx="345.94" cy="116.40" r="1.12" fill="#22b838"/>
<circle cx="345.40" cy="82.48" r="1.12" fill="#22b838"/>
<circle cx="347.34" cy="88.16" r="1.12" fill="#22b838"/>
<circle cx="347.66" cy="92.33" r="1.12" fill="#22b838"/>
<circle cx="348.63" cy="84.20" r="1.12" fill="#22b838"/>
<circle cx="345.67" cy="88.41" r="1.12" fill="#22b838"/>
<circle cx="347.59" cy="86.66" r="1.12" fill="#22b838"/>
<circle cx="346.69" cy="76.85" r="1.12" fill="#22b838"/>
<circle cx="347.17" cy="88.52" r="1.12" fill="#22b838"/>
<circle cx="345.88" cy="102.05" r="1.12" fill="#22b838"/>
<circle cx="346.37" cy="93.85" r="1.12" fill="#22b838"/>
<circle cx="347.23" cy="81.50" r="1.12" fill="#22b838"/>
<circle cx="348.68" cy="73.17" r="1.12" fill="#22b838"/>
<circle cx="345.74" cy="96.50" r="1.12" fill="#22b838"/>
<circle cx="348.00" cy="66.20" r="1.12" fill="#22b838"/>
<circle cx="361.37" cy="72.30" r="1.12" fill="#0b4d91"/>
<circle cx="362.08" cy="121.80" r="1.12" fill="#0b4d91"/>
<circle cx="359.49" cy="103.51" r="1.12" fill="#0b4d91"/>
<circle cx="362.37" cy="84.15" r="1.12" fill="#0b4d91"/>
<circle cx="359.77" cy="112.37" r="1.12" fill="#0b4d91"/>
<circle cx="361.51" cy="106.36" r="1.12" fill="#0b4d91"/>
<circle cx="361.33" cy="105.85" r="1.12" fill="#0b4d91"/>
<circle cx="361.61" cy="103.98" r="1.12" fill="#0b4d91"/>
<circle cx="360.45" cy="103.07" r="1.12" fill="#0b4d91"/>
<circle cx="360.86" cy="94.11" r="1.12" fill="#0b4d91"/>
<circle cx="361.45" cy="109.00" r="1.12" fill="#0b4d91"/>
<circle cx="360.88" cy="93.99" r="1.12" fill="#0b4d91"/>
<circle cx="361.72" cy="93.61" r="1.12" fill="#0b4d91"/>
<circle cx="360.96" cy="90.41" r="1.12" fill="#0b4d91"/>
<circle cx="360.93" cy="108.18" r="1.12" fill="#0b4d91"/>
<circle cx="373.50" cy="53.40" r="1.12" fill="#d90d2b"/>
<circle cx="376.33" cy="117.70" r="1.12" fill="#d90d2b"/>
<circle cx="374.57" cy="90.51" r="1.12" fill="#d90d2b"/>
<circle cx="376.24" cy="78.54" r="1.12" fill="#d90d2b"/>
<circle cx="376.10" cy="106.79" r="1.12" fill="#d90d2b"/>
<circle cx="373.39" cy="85.96" r="1.12" fill="#d90d2b"/>
<circle cx="375.64" cy="75.21" r="1.12" fill="#d90d2b"/>
<circle cx="376.15" cy="74.06" r="1.12" fill="#d90d2b"/>
<circle cx="373.04" cy="87.12" r="1.12" fill="#d90d2b"/>
<circle cx="374.06" cy="91.06" r="1.12" fill="#d90d2b"/>
<circle cx="375.52" cy="94.08" r="1.12" fill="#d90d2b"/>
<circle cx="373.37" cy="102.54" r="1.12" fill="#d90d2b"/>
<circle cx="376.03" cy="82.99" r="1.12" fill="#d90d2b"/>
<circle cx="373.79" cy="57.29" r="1.12" fill="#d90d2b"/>
<circle cx="375.74" cy="113.43" r="1.12" fill="#d90d2b"/>
<circle cx="374.20" cy="51.00" r="1.12" fill="#d90d2b"/>
<circle cx="388.18" cy="77.30" r="1.12" fill="#22b838"/>
<circle cx="387.40" cy="126.20" r="1.12" fill="#22b838"/>
<circle cx="388.85" cy="95.76" r="1.12" fill="#22b838"/>
<circle cx="387.69" cy="82.15" r="1.12" fill="#22b838"/>
<circle cx="386.74" cy="91.03" r="1.12" fill="#22b838"/>
<circle cx="388.78" cy="87.50" r="1.12" fill="#22b838"/>
<circle cx="386.27" cy="106.96" r="1.12" fill="#22b838"/>
<circle cx="389.05" cy="105.90" r="1.12" fill="#22b838"/>
<circle cx="387.01" cy="103.05" r="1.12" fill="#22b838"/>
<circle cx="388.40" cy="96.49" r="1.12" fill="#22b838"/>
<circle cx="389.64" cy="92.08" r="1.12" fill="#22b838"/>
<circle cx="388.21" cy="115.96" r="1.12" fill="#22b838"/>
<circle cx="388.49" cy="77.36" r="1.12" fill="#22b838"/>
<circle cx="387.23" cy="92.97" r="1.12" fill="#22b838"/>
<circle cx="386.11" cy="77.38" r="1.12" fill="#22b838"/>
<circle cx="403.04" cy="98.50" r="1.12" fill="#0b4d91"/>
<circle cx="402.72" cy="136.00" r="1.12" fill="#0b4d91"/>
<circle cx="401.35" cy="109.54" r="1.12" fill="#0b4d91"/>
<circle cx="400.85" cy="115.48" r="1.12" fill="#0b4d91"/>
<circle cx="399.94" cy="125.21" r="1.12" fill="#0b4d91"/>
<circle cx="402.22" cy="111.17" r="1.12" fill="#0b4d91"/>
<circle cx="401.92" cy="106.87" r="1.12" fill="#0b4d91"/>
<circle cx="401.16" cy="113.85" r="1.12" fill="#0b4d91"/>
<circle cx="402.22" cy="113.90" r="1.12" fill="#0b4d91"/>
<circle cx="401.50" cy="118.66" r="1.12" fill="#0b4d91"/>
<circle cx="403.27" cy="110.69" r="1.12" fill="#0b4d91"/>
<circle cx="402.54" cy="116.37" r="1.12" fill="#0b4d91"/>
<circle cx="400.79" cy="126.07" r="1.12" fill="#0b4d91"/>
<circle cx="403.15" cy="109.54" r="1.12" fill="#0b4d91"/>
<circle cx="400.06" cy="119.80" r="1.12" fill="#0b4d91"/>
<circle cx="401.00" cy="84.40" r="1.12" fill="#0b4d91"/>
<circle cx="413.39" cy="81.50" r="1.12" fill="#d90d2b"/>
<circle cx="414.46" cy="128.10" r="1.12" fill="#d90d2b"/>
<circle cx="415.95" cy="102.20" r="1.12" fill="#d90d2b"/>
<circle cx="415.75" cy="92.78" r="1.12" fill="#d90d2b"/>
<circle cx="416.29" cy="87.46" r="1.12" fill="#d90d2b"/>
<circle cx="415.81" cy="90.46" r="1.12" fill="#d90d2b"/>
<circle cx="414.21" cy="104.94" r="1.12" fill="#d90d2b"/>
<circle cx="415.24" cy="113.24" r="1.12" fill="#d90d2b"/>
<circle cx="414.82" cy="99.58" r="1.12" fill="#d90d2b"/>
<circle cx="416.09" cy="92.51" r="1.12" fill="#d90d2b"/>
<circle cx="415.13" cy="124.03" r="1.12" fill="#d90d2b"/>
<circle cx="414.21" cy="114.08" r="1.12" fill="#d90d2b"/>
<circle cx="415.56" cy="85.19" r="1.12" fill="#d90d2b"/>
<circle cx="416.72" cy="97.32" r="1.12" fill="#d90d2b"/>
<circle cx="414.03" cy="97.50" r="1.12" fill="#d90d2b"/>
<circle cx="426.98" cy="99.90" r="1.12" fill="#22b838"/>
<circle cx="429.94" cy="152.90" r="1.12" fill="#22b838"/>
<circle cx="427.84" cy="106.97" r="1.12" fill="#22b838"/>
<circle cx="427.11" cy="124.04" r="1.12" fill="#22b838"/>
<circle cx="426.70" cy="133.49" r="1.12" fill="#22b838"/>
<circle cx="426.75" cy="107.09" r="1.12" fill="#22b838"/>
<circle cx="429.09" cy="142.55" r="1.12" fill="#22b838"/>
<circle cx="428.88" cy="129.14" r="1.12" fill="#22b838"/>
<circle cx="429.11" cy="126.12" r="1.12" fill="#22b838"/>
<circle cx="429.25" cy="126.51" r="1.12" fill="#22b838"/>
<circle cx="426.84" cy="123.62" r="1.12" fill="#22b838"/>
<circle cx="428.73" cy="114.58" r="1.12" fill="#22b838"/>
<circle cx="427.91" cy="121.41" r="1.12" fill="#22b838"/>
<circle cx="429.54" cy="127.66" r="1.12" fill="#22b838"/>
<circle cx="429.55" cy="108.48" r="1.12" fill="#22b838"/>
<circle cx="441.84" cy="101.10" r="1.12" fill="#0b4d91"/>
<circle cx="441.92" cy="148.90" r="1.12" fill="#0b4d91"/>
<circle cx="443.13" cy="102.38" r="1.12" fill="#0b4d91"/>
<circle cx="441.60" cy="138.79" r="1.12" fill="#0b4d91"/>
<circle cx="442.89" cy="110.88" r="1.12" fill="#0b4d91"/>
<circle cx="442.29" cy="133.76" r="1.12" fill="#0b4d91"/>
<circle cx="441.13" cy="146.15" r="1.12" fill="#0b4d91"/>
<circle cx="443.45" cy="116.34" r="1.12" fill="#0b4d91"/>
<circle cx="440.68" cy="110.44" r="1.12" fill="#0b4d91"/>
<circle cx="443.30" cy="106.39" r="1.12" fill="#0b4d91"/>
<circle cx="440.96" cy="108.05" r="1.12" fill="#0b4d91"/>
<circle cx="440.35" cy="116.19" r="1.12" fill="#0b4d91"/>
<circle cx="441.08" cy="106.38" r="1.12" fill="#0b4d91"/>
<circle cx="443.09" cy="146.54" r="1.12" fill="#0b4d91"/>
<circle cx="443.87" cy="108.36" r="1.12" fill="#0b4d91"/>
<circle cx="442.00" cy="83.80" r="1.12" fill="#0b4d91"/>
<circle cx="453.99" cy="98.20" r="1.12" fill="#d90d2b"/>
<circle cx="454.64" cy="144.00" r="1.12" fill="#d90d2b"/>
<circle cx="454.85" cy="113.43" r="1.12" fill="#d90d2b"/>
<circle cx="457.14" cy="122.31" r="1.12" fill="#d90d2b"/>
<circle cx="455.70" cy="113.54" r="1.12" fill="#d90d2b"/>
<circle cx="455.27" cy="123.32" r="1.12" fill="#d90d2b"/>
<circle cx="457.08" cy="126.57" r="1.12" fill="#d90d2b"/>
<circle cx="454.74" cy="105.43" r="1.12" fill="#d90d2b"/>
<circle cx="455.56" cy="113.65" r="1.12" fill="#d90d2b"/>
<circle cx="455.81" cy="117.66" r="1.12" fill="#d90d2b"/>
<circle cx="456.62" cy="122.05" r="1.12" fill="#d90d2b"/>
<circle cx="456.61" cy="122.02" r="1.12" fill="#d90d2b"/>
<circle cx="456.23" cy="109.51" r="1.12" fill="#d90d2b"/>
<circle cx="455.15" cy="110.64" r="1.12" fill="#d90d2b"/>
<circle cx="455.08" cy="98.37" r="1.12" fill="#d90d2b"/>
<circle cx="455.00" cy="72.70" r="1.12" fill="#d90d2b"/>
<circle cx="455.00" cy="75.60" r="1.12" fill="#d90d2b"/>
<circle cx="455.00" cy="80.80" r="1.12" fill="#d90d2b"/>
<circle cx="470.89" cy="96.80" r="1.12" fill="#22b838"/>
<circle cx="470.21" cy="169.40" r="1.12" fill="#22b838"/>
<circle cx="469.99" cy="129.98" r="1.12" fill="#22b838"/>
<circle cx="468.92" cy="127.78" r="1.12" fill="#22b838"/>
<circle cx="468.06" cy="121.17" r="1.12" fill="#22b838"/>
<circle cx="469.65" cy="134.71" r="1.12" fill="#22b838"/>
<circle cx="467.73" cy="130.90" r="1.12" fill="#22b838"/>
<circle cx="468.09" cy="115.78" r="1.12" fill="#22b838"/>
<circle cx="468.75" cy="126.93" r="1.12" fill="#22b838"/>
<circle cx="467.47" cy="110.84" r="1.12" fill="#22b838"/>
<circle cx="468.79" cy="118.72" r="1.12" fill="#22b838"/>
<circle cx="470.20" cy="115.11" r="1.12" fill="#22b838"/>
<circle cx="469.85" cy="115.73" r="1.12" fill="#22b838"/>
<circle cx="469.15" cy="134.33" r="1.12" fill="#22b838"/>
<circle cx="469.63" cy="108.40" r="1.12" fill="#22b838"/>
<rect x="54.2" y="15.6" width="438.1" height="172.3" class="fr"/>
<line x1="90.50" y1="187.90" x2="90.50" y2="190.90" class="ax"/>
<text x="0" y="0" class="xl" text-anchor="end" transform="translate(95.00,197.70) rotate(-45) scale(0.91,1)">DG(14:0_18:1)</text>
<line x1="131.00" y1="187.90" x2="131.00" y2="190.90" class="ax"/>
<text x="0" y="0" class="xl" text-anchor="end" transform="translate(135.50,197.70) rotate(-45) scale(0.91,1)">DG(16:0_18:1)</text>
<line x1="171.50" y1="187.90" x2="171.50" y2="190.90" class="ax"/>
<text x="0" y="0" class="xl" text-anchor="end" transform="translate(176.00,197.70) rotate(-45) scale(0.91,1)">DG(16:0_18:2)</text>
<line x1="212.00" y1="187.90" x2="212.00" y2="190.90" class="ax"/>
<text x="0" y="0" class="xl" text-anchor="end" transform="translate(216.50,197.70) rotate(-45) scale(0.91,1)">DG(16:0_22:6)</text>
<line x1="252.50" y1="187.90" x2="252.50" y2="190.90" class="ax"/>
<text x="0" y="0" class="xl" text-anchor="end" transform="translate(257.00,197.70) rotate(-45) scale(0.91,1)">DG(18:0_18:1)</text>
<line x1="293.00" y1="187.90" x2="293.00" y2="190.90" class="ax"/>
<text x="0" y="0" class="xl" text-anchor="end" transform="translate(297.50,197.70) rotate(-45) scale(0.91,1)">DG(18:0_20:4)</text>
<line x1="333.50" y1="187.90" x2="333.50" y2="190.90" class="ax"/>
<text x="0" y="0" class="xl" text-anchor="end" transform="translate(338.00,197.70) rotate(-45) scale(0.91,1)">DG(18:1_18:1)</text>
<line x1="374.00" y1="187.90" x2="374.00" y2="190.90" class="ax"/>
<text x="0" y="0" class="xl" text-anchor="end" transform="translate(378.50,197.70) rotate(-45) scale(0.91,1)">DG(18:1_18:2)</text>
<line x1="414.50" y1="187.90" x2="414.50" y2="190.90" class="ax"/>
<text x="0" y="0" class="xl" text-anchor="end" transform="translate(419.00,197.70) rotate(-45) scale(0.91,1)">DG(18:1_20:4)</text>
<line x1="455.00" y1="187.90" x2="455.00" y2="190.90" class="ax"/>
<text x="0" y="0" class="xl" text-anchor="end" transform="translate(459.50,197.70) rotate(-45) scale(0.91,1)">DG(18:2_18:2)</text>
<rect x="63.9" y="22.1" width="6.2" height="6.2" fill="#18508f"/>
<text x="73.2" y="27.7" class="lg">Resting</text>
<rect x="109.7" y="22.1" width="6.2" height="6.2" fill="#d2143c"/>
<text x="119.3" y="27.7" class="lg">Thrombin</text>
<rect x="63.9" y="36.1" width="6.2" height="6.2" fill="#3bb54a"/>
<text x="73.2" y="41.7" class="lg">CXCR7 agonist + thrombin</text>
<text x="7.2" y="258.3" class="pl">Dii</text>
<line x1="51.20" y1="275.11" x2="54.20" y2="275.11" class="ax"/>
<text x="0" y="0" class="tl" text-anchor="end" transform="translate(47.60,277.91) scale(0.9,1)">500</text>
<line x1="51.20" y1="300.89" x2="54.20" y2="300.89" class="ax"/>
<text x="0" y="0" class="tl" text-anchor="end" transform="translate(47.60,303.69) scale(0.9,1)">200</text>
<line x1="51.20" y1="320.40" x2="54.20" y2="320.40" class="ax"/>
<text x="0" y="0" class="tl" text-anchor="end" transform="translate(47.60,323.20) scale(0.9,1)">100</text>
<line x1="51.20" y1="339.91" x2="54.20" y2="339.91" class="ax"/>
<text x="0" y="0" class="tl" text-anchor="end" transform="translate(47.60,342.71) scale(0.9,1)">50</text>
<line x1="51.20" y1="365.69" x2="54.20" y2="365.69" class="ax"/>
<text x="0" y="0" class="tl" text-anchor="end" transform="translate(47.60,368.49) scale(0.9,1)">20</text>
<line x1="51.20" y1="385.20" x2="54.20" y2="385.20" class="ax"/>
<text x="0" y="0" class="tl" text-anchor="end" transform="translate(47.60,388.00) scale(0.9,1)">10</text>
<line x1="51.20" y1="404.71" x2="54.20" y2="404.71" class="ax"/>
<text x="0" y="0" class="tl" text-anchor="end" transform="translate(47.60,407.51) scale(0.9,1)">5</text>
<line x1="51.20" y1="430.49" x2="54.20" y2="430.49" class="ax"/>
<text x="0" y="0" class="tl" text-anchor="end" transform="translate(47.60,433.29) scale(0.9,1)">2</text>
<text x="0" y="0" class="yt" text-anchor="middle" transform="translate(26.90,344.20) rotate(-90) scale(0.95,1)">Concentration [ng/mL]</text>
<line x1="75.35" y1="350.00" x2="75.35" y2="356.90" class="w"/>
<line x1="75.35" y1="380.80" x2="75.35" y2="399.20" class="w"/>
<line x1="72.27" y1="350.00" x2="78.42" y2="350.00" class="w"/>
<line x1="72.27" y1="399.20" x2="78.42" y2="399.20" class="w"/>
<rect x="69.20" y="356.90" width="12.30" height="23.90" fill="#8dabc7" class="b"/>
<line x1="69.20" y1="369.60" x2="81.50" y2="369.60" class="m"/>
<line x1="90.45" y1="348.50" x2="90.45" y2="354.80" class="w"/>
<line x1="90.45" y1="369.60" x2="90.45" y2="380.20" class="w"/>
<line x1="87.38" y1="348.50" x2="93.53" y2="348.50" class="w"/>
<line x1="87.38" y1="380.20" x2="93.53" y2="380.20" class="w"/>
<rect x="84.30" y="354.80" width="12.30" height="14.80" fill="#e28a98" class="b"/>
<line x1="84.30" y1="362.10" x2="96.60" y2="362.10" class="m"/>
<line x1="104.65" y1="349.00" x2="104.65" y2="362.50" class="w"/>
<line x1="104.65" y1="383.30" x2="104.65" y2="395.80" class="w"/>
<line x1="101.58" y1="349.00" x2="107.73" y2="349.00" class="w"/>
<line x1="101.58" y1="395.80" x2="107.73" y2="395.80" class="w"/>
<rect x="98.50" y="362.50" width="12.30" height="20.80" fill="#9ddca7" class="b"/>
<line x1="98.50" y1="365.40" x2="110.80" y2="365.40" class="m"/>
<line x1="119.40" y1="277.60" x2="119.40" y2="287.20" class="w"/>
<line x1="119.40" y1="302.50" x2="119.40" y2="310.60" class="w"/>
<line x1="116.33" y1="277.60" x2="122.48" y2="277.60" class="w"/>
<line x1="116.33" y1="310.60" x2="122.48" y2="310.60" class="w"/>
<rect x="113.25" y="287.20" width="12.30" height="15.30" fill="#8dabc7" class="b"/>
<line x1="113.25" y1="296.30" x2="125.55" y2="296.30" class="m"/>
<line x1="134.45" y1="264.00" x2="134.45" y2="276.80" class="w"/>
<line x1="134.45" y1="297.20" x2="134.45" y2="310.80" class="w"/>
<line x1="131.38" y1="264.00" x2="137.52" y2="264.00" class="w"/>
<line x1="131.38" y1="310.80" x2="137.52" y2="310.80" class="w"/>
<rect x="128.30" y="276.80" width="12.30" height="20.40" fill="#e28a98" class="b"/>
<line x1="128.30" y1="284.30" x2="140.60" y2="284.30" class="m"/>
<line x1="148.55" y1="277.60" x2="148.55" y2="284.90" class="w"/>
<line x1="148.55" y1="301.30" x2="148.55" y2="321.20" class="w"/>
<line x1="145.48" y1="277.60" x2="151.62" y2="277.60" class="w"/>
<line x1="145.48" y1="321.20" x2="151.62" y2="321.20" class="w"/>
<rect x="142.40" y="284.90" width="12.30" height="16.40" fill="#9ddca7" class="b"/>
<line x1="142.40" y1="295.20" x2="154.70" y2="295.20" class="m"/>
<line x1="163.50" y1="311.30" x2="163.50" y2="315.00" class="w"/>
<line x1="163.50" y1="335.00" x2="163.50" y2="343.80" class="w"/>
<line x1="160.43" y1="311.30" x2="166.57" y2="311.30" class="w"/>
<line x1="160.43" y1="343.80" x2="166.57" y2="343.80" class="w"/>
<rect x="157.35" y="315.00" width="12.30" height="20.00" fill="#8dabc7" class="b"/>
<line x1="157.35" y1="324.10" x2="169.65" y2="324.10" class="m"/>
<line x1="178.45" y1="307.20" x2="178.45" y2="310.20" class="w"/>
<line x1="178.45" y1="330.30" x2="178.45" y2="343.20" class="w"/>
<line x1="175.38" y1="307.20" x2="181.52" y2="307.20" class="w"/>
<line x1="175.38" y1="343.20" x2="181.52" y2="343.20" class="w"/>
<rect x="172.30" y="310.20" width="12.30" height="20.10" fill="#e28a98" class="b"/>
<line x1="172.30" y1="318.20" x2="184.60" y2="318.20" class="m"/>
<line x1="192.65" y1="312.20" x2="192.65" y2="317.40" class="w"/>
<line x1="192.65" y1="336.60" x2="192.65" y2="346.60" class="w"/>
<line x1="189.58" y1="312.20" x2="195.72" y2="312.20" class="w"/>
<line x1="189.58" y1="346.60" x2="195.72" y2="346.60" class="w"/>
<rect x="186.50" y="317.40" width="12.30" height="19.20" fill="#9ddca7" class="b"/>
<line x1="186.50" y1="327.40" x2="198.80" y2="327.40" class="m"/>
<line x1="207.55" y1="296.10" x2="207.55" y2="306.50" class="w"/>
<line x1="207.55" y1="337.70" x2="207.55" y2="359.30" class="w"/>
<line x1="204.48" y1="296.10" x2="210.62" y2="296.10" class="w"/>
<line x1="204.48" y1="359.30" x2="210.62" y2="359.30" class="w"/>
<rect x="201.40" y="306.50" width="12.30" height="31.20" fill="#8dabc7" class="b"/>
<line x1="201.40" y1="328.60" x2="213.70" y2="328.60" class="m"/>
<line x1="222.45" y1="275.20" x2="222.45" y2="291.10" class="w"/>
<line x1="222.45" y1="316.10" x2="222.45" y2="352.30" class="w"/>
<line x1="219.38" y1="275.20" x2="225.52" y2="275.20" class="w"/>
<line x1="219.38" y1="352.30" x2="225.52" y2="352.30" class="w"/>
<rect x="216.30" y="291.10" width="12.30" height="25.00" fill="#e28a98" class="b"/>
<line x1="216.30" y1="308.10" x2="228.60" y2="308.10" class="m"/>
<line x1="236.50" y1="297.30" x2="236.50" y2="303.40" class="w"/>
<line x1="236.50" y1="331.10" x2="236.50" y2="363.50" class="w"/>
<line x1="233.43" y1="297.30" x2="239.57" y2="297.30" class="w"/>
<line x1="233.43" y1="363.50" x2="239.57" y2="363.50" class="w"/>
<rect x="230.35" y="303.40" width="12.30" height="27.70" fill="#9ddca7" class="b"/>
<line x1="230.35" y1="326.90" x2="242.65" y2="326.90" class="m"/>
<line x1="251.50" y1="320.30" x2="251.50" y2="327.40" class="w"/>
<line x1="251.50" y1="346.50" x2="251.50" y2="370.20" class="w"/>
<line x1="248.43" y1="320.30" x2="254.57" y2="320.30" class="w"/>
<line x1="248.43" y1="370.20" x2="254.57" y2="370.20" class="w"/>
<rect x="245.35" y="327.40" width="12.30" height="19.10" fill="#8dabc7" class="b"/>
<line x1="245.35" y1="338.40" x2="257.65" y2="338.40" class="m"/>
<line x1="266.50" y1="306.00" x2="266.50" y2="323.60" class="w"/>
<line x1="266.50" y1="347.50" x2="266.50" y2="359.70" class="w"/>
<line x1="263.43" y1="306.00" x2="269.57" y2="306.00" class="w"/>
<line x1="263.43" y1="359.70" x2="269.57" y2="359.70" class="w"/>
<rect x="260.35" y="323.60" width="12.30" height="23.90" fill="#e28a98" class="b"/>
<line x1="260.35" y1="335.80" x2="272.65" y2="335.80" class="m"/>
<line x1="280.65" y1="317.30" x2="280.65" y2="329.60" class="w"/>
<line x1="280.65" y1="349.40" x2="280.65" y2="369.20" class="w"/>
<line x1="277.57" y1="317.30" x2="283.72" y2="317.30" class="w"/>
<line x1="277.57" y1="369.20" x2="283.72" y2="369.20" class="w"/>
<rect x="274.50" y="329.60" width="12.30" height="19.80" fill="#9ddca7" class="b"/>
<line x1="274.50" y1="343.50" x2="286.80" y2="343.50" class="m"/>
<line x1="295.60" y1="351.50" x2="295.60" y2="357.40" class="w"/>
<line x1="295.60" y1="366.50" x2="295.60" y2="383.20" class="w"/>
<line x1="292.53" y1="351.50" x2="298.68" y2="351.50" class="w"/>
<line x1="292.53" y1="383.20" x2="298.68" y2="383.20" class="w"/>
<rect x="289.45" y="357.40" width="12.30" height="9.10" fill="#8dabc7" class="b"/>
<line x1="289.45" y1="358.90" x2="301.75" y2="358.90" class="m"/>
<line x1="310.45" y1="329.80" x2="310.45" y2="344.00" class="w"/>
<line x1="310.45" y1="364.50" x2="310.45" y2="382.20" class="w"/>
<line x1="307.38" y1="329.80" x2="313.52" y2="329.80" class="w"/>
<line x1="307.38" y1="382.20" x2="313.52" y2="382.20" class="w"/>
<rect x="304.30" y="344.00" width="12.30" height="20.50" fill="#e28a98" class="b"/>
<line x1="304.30" y1="355.10" x2="316.60" y2="355.10" class="m"/>
<line x1="324.60" y1="345.00" x2="324.60" y2="357.40" class="w"/>
<line x1="324.60" y1="371.60" x2="324.60" y2="386.20" class="w"/>
<line x1="321.53" y1="345.00" x2="327.68" y2="345.00" class="w"/>
<line x1="321.53" y1="386.20" x2="327.68" y2="386.20" class="w"/>
<rect x="318.45" y="357.40" width="12.30" height="14.20" fill="#9ddca7" class="b"/>
<line x1="318.45" y1="362.40" x2="330.75" y2="362.40" class="m"/>
<line x1="339.45" y1="320.70" x2="339.45" y2="328.20" class="w"/>
<line x1="339.45" y1="349.40" x2="339.45" y2="357.90" class="w"/>
<line x1="336.38" y1="320.70" x2="342.52" y2="320.70" class="w"/>
<line x1="336.38" y1="357.90" x2="342.52" y2="357.90" class="w"/>
<rect x="333.30" y="328.20" width="12.30" height="21.20" fill="#8dabc7" class="b"/>
<line x1="333.30" y1="342.40" x2="345.60" y2="342.40" class="m"/>
<line x1="354.50" y1="317.50" x2="354.50" y2="322.20" class="w"/>
<line x1="354.50" y1="339.80" x2="354.50" y2="359.40" class="w"/>
<line x1="351.43" y1="317.50" x2="357.57" y2="317.50" class="w"/>
<line x1="351.43" y1="359.40" x2="357.57" y2="359.40" class="w"/>
<rect x="348.35" y="322.20" width="12.30" height="17.60" fill="#e28a98" class="b"/>
<line x1="348.35" y1="333.80" x2="360.65" y2="333.80" class="m"/>
<line x1="368.75" y1="323.60" x2="368.75" y2="338.00" class="w"/>
<line x1="368.75" y1="355.40" x2="368.75" y2="377.90" class="w"/>
<line x1="365.68" y1="323.60" x2="371.82" y2="323.60" class="w"/>
<line x1="365.68" y1="377.90" x2="371.82" y2="377.90" class="w"/>
<rect x="362.60" y="338.00" width="12.30" height="17.40" fill="#9ddca7" class="b"/>
<line x1="362.60" y1="347.30" x2="374.90" y2="347.30" class="m"/>
<line x1="383.55" y1="366.80" x2="383.55" y2="379.20" class="w"/>
<line x1="383.55" y1="394.50" x2="383.55" y2="410.60" class="w"/>
<line x1="380.47" y1="366.80" x2="386.62" y2="366.80" class="w"/>
<line x1="380.47" y1="410.60" x2="386.62" y2="410.60" class="w"/>
<rect x="377.40" y="379.20" width="12.30" height="15.30" fill="#8dabc7" class="b"/>
<line x1="377.40" y1="389.30" x2="389.70" y2="389.30" class="m"/>
<line x1="398.50" y1="357.80" x2="398.50" y2="369.40" class="w"/>
<line x1="398.50" y1="388.40" x2="398.50" y2="405.50" class="w"/>
<line x1="395.43" y1="357.80" x2="401.57" y2="357.80" class="w"/>
<line x1="395.43" y1="405.50" x2="401.57" y2="405.50" class="w"/>
<rect x="392.35" y="369.40" width="12.30" height="19.00" fill="#e28a98" class="b"/>
<line x1="392.35" y1="382.10" x2="404.65" y2="382.10" class="m"/>
<line x1="412.70" y1="377.50" x2="412.70" y2="386.10" class="w"/>
<line x1="412.70" y1="400.60" x2="412.70" y2="425.60" class="w"/>
<line x1="409.63" y1="377.50" x2="415.78" y2="377.50" class="w"/>
<line x1="409.63" y1="425.60" x2="415.78" y2="425.60" class="w"/>
<rect x="406.55" y="386.10" width="12.30" height="14.50" fill="#9ddca7" class="b"/>
<line x1="406.55" y1="393.40" x2="418.85" y2="393.40" class="m"/>
<circle cx="75.02" cy="350.00" r="1.12" fill="#0b4d91"/>
<circle cx="75.98" cy="399.20" r="1.12" fill="#0b4d91"/>
<circle cx="76.90" cy="360.29" r="1.12" fill="#0b4d91"/>
<circle cx="74.21" cy="366.57" r="1.12" fill="#0b4d91"/>
<circle cx="75.91" cy="385.57" r="1.12" fill="#0b4d91"/>
<circle cx="76.35" cy="374.80" r="1.12" fill="#0b4d91"/>
<circle cx="74.95" cy="362.36" r="1.12" fill="#0b4d91"/>
<circle cx="75.31" cy="393.01" r="1.12" fill="#0b4d91"/>
<circle cx="77.06" cy="390.72" r="1.12" fill="#0b4d91"/>
<circle cx="73.69" cy="367.75" r="1.12" fill="#0b4d91"/>
<circle cx="75.51" cy="371.92" r="1.12" fill="#0b4d91"/>
<circle cx="74.13" cy="366.93" r="1.12" fill="#0b4d91"/>
<circle cx="76.36" cy="389.58" r="1.12" fill="#0b4d91"/>
<circle cx="76.94" cy="367.02" r="1.12" fill="#0b4d91"/>
<circle cx="75.42" cy="371.76" r="1.12" fill="#0b4d91"/>
<circle cx="92.03" cy="348.50" r="1.12" fill="#d90d2b"/>
<circle cx="90.55" cy="380.20" r="1.12" fill="#d90d2b"/>
<circle cx="89.44" cy="363.30" r="1.12" fill="#d90d2b"/>
<circle cx="91.54" cy="365.42" r="1.12" fill="#d90d2b"/>
<circle cx="90.06" cy="364.26" r="1.12" fill="#d90d2b"/>
<circle cx="89.41" cy="372.15" r="1.12" fill="#d90d2b"/>
<circle cx="89.12" cy="351.37" r="1.12" fill="#d90d2b"/>
<circle cx="91.45" cy="366.09" r="1.12" fill="#d90d2b"/>
<circle cx="91.56" cy="369.37" r="1.12" fill="#d90d2b"/>
<circle cx="90.93" cy="355.64" r="1.12" fill="#d90d2b"/>
<circle cx="90.34" cy="360.72" r="1.12" fill="#d90d2b"/>
<circle cx="90.67" cy="361.00" r="1.12" fill="#d90d2b"/>
<circle cx="89.46" cy="365.13" r="1.12" fill="#d90d2b"/>
<circle cx="92.12" cy="358.72" r="1.12" fill="#d90d2b"/>
<circle cx="89.92" cy="365.77" r="1.12" fill="#d90d2b"/>
<circle cx="90.50" cy="333.70" r="1.12" fill="#d90d2b"/>
<circle cx="103.36" cy="349.00" r="1.12" fill="#22b838"/>
<circle cx="105.84" cy="395.80" r="1.12" fill="#22b838"/>
<circle cx="105.13" cy="379.53" r="1.12" fill="#22b838"/>
<circle cx="102.90" cy="360.59" r="1.12" fill="#22b838"/>
<circle cx="102.89" cy="365.10" r="1.12" fill="#22b838"/>
<circle cx="106.28" cy="352.08" r="1.12" fill="#22b838"/>
<circle cx="105.21" cy="370.32" r="1.12" fill="#22b838"/>
<circle cx="103.75" cy="371.36" r="1.12" fill="#22b838"/>
<circle cx="103.22" cy="362.56" r="1.12" fill="#22b838"/>
<circle cx="103.36" cy="361.08" r="1.12" fill="#22b838"/>
<circle cx="103.69" cy="372.47" r="1.12" fill="#22b838"/>
<circle cx="105.64" cy="375.76" r="1.12" fill="#22b838"/>
<circle cx="104.10" cy="370.04" r="1.12" fill="#22b838"/>
<circle cx="103.40" cy="383.43" r="1.12" fill="#22b838"/>
<circle cx="106.10" cy="391.77" r="1.12" fill="#22b838"/>
<circle cx="119.28" cy="277.60" r="1.12" fill="#0b4d91"/>
<circle cx="119.63" cy="310.60" r="1.12" fill="#0b4d91"/>
<circle cx="120.00" cy="279.22" r="1.12" fill="#0b4d91"/>
<circle cx="120.63" cy="299.15" r="1.12" fill="#0b4d91"/>
<circle cx="118.95" cy="300.88" r="1.12" fill="#0b4d91"/>
<circle cx="119.11" cy="303.10" r="1.12" fill="#0b4d91"/>
<circle cx="121.06" cy="295.32" r="1.12" fill="#0b4d91"/>
<circle cx="117.87" cy="279.34" r="1.12" fill="#0b4d91"/>
<circle cx="119.89" cy="291.25" r="1.12" fill="#0b4d91"/>
<circle cx="119.89" cy="289.33" r="1.12" fill="#0b4d91"/>
<circle cx="117.70" cy="288.09" r="1.12" fill="#0b4d91"/>
<circle cx="119.79" cy="289.41" r="1.12" fill="#0b4d91"/>
<circle cx="120.06" cy="294.82" r="1.12" fill="#0b4d91"/>
<circle cx="120.95" cy="300.40" r="1.12" fill="#0b4d91"/>
<circle cx="118.79" cy="300.06" r="1.12" fill="#0b4d91"/>
<circle cx="134.94" cy="264.00" r="1.12" fill="#d90d2b"/>
<circle cx="135.47" cy="310.80" r="1.12" fill="#d90d2b"/>
<circle cx="132.79" cy="301.47" r="1.12" fill="#d90d2b"/>
<circle cx="135.25" cy="269.26" r="1.12" fill="#d90d2b"/>
<circle cx="135.84" cy="283.71" r="1.12" fill="#d90d2b"/>
<circle cx="134.61" cy="272.92" r="1.12" fill="#d90d2b"/>
<circle cx="132.83" cy="292.52" r="1.12" fill="#d90d2b"/>
<circle cx="133.73" cy="285.68" r="1.12" fill="#d90d2b"/>
<circle cx="132.67" cy="288.10" r="1.12" fill="#d90d2b"/>
<circle cx="133.33" cy="267.34" r="1.12" fill="#d90d2b"/>
<circle cx="135.97" cy="287.08" r="1.12" fill="#d90d2b"/>
<circle cx="134.84" cy="287.13" r="1.12" fill="#d90d2b"/>
<circle cx="135.02" cy="306.56" r="1.12" fill="#d90d2b"/>
<circle cx="135.49" cy="283.27" r="1.12" fill="#d90d2b"/>
<circle cx="135.93" cy="288.76" r="1.12" fill="#d90d2b"/>
<circle cx="146.89" cy="277.60" r="1.12" fill="#22b838"/>
<circle cx="147.18" cy="321.20" r="1.12" fill="#22b838"/>
<circle cx="149.67" cy="295.01" r="1.12" fill="#22b838"/>
<circle cx="148.82" cy="296.32" r="1.12" fill="#22b838"/>
<circle cx="150.06" cy="296.07" r="1.12" fill="#22b838"/>
<circle cx="148.36" cy="295.84" r="1.12" fill="#22b838"/>
<circle cx="146.80" cy="297.41" r="1.12" fill="#22b838"/>
<circle cx="148.14" cy="287.87" r="1.12" fill="#22b838"/>
<circle cx="148.88" cy="297.60" r="1.12" fill="#22b838"/>
<circle cx="150.13" cy="305.34" r="1.12" fill="#22b838"/>
<circle cx="150.28" cy="309.22" r="1.12" fill="#22b838"/>
<circle cx="148.46" cy="289.85" r="1.12" fill="#22b838"/>
<circle cx="148.23" cy="290.12" r="1.12" fill="#22b838"/>
<circle cx="147.12" cy="295.42" r="1.12" fill="#22b838"/>
<circle cx="149.07" cy="281.95" r="1.12" fill="#22b838"/>
<circle cx="161.99" cy="311.30" r="1.12" fill="#0b4d91"/>
<circle cx="162.82" cy="343.80" r="1.12" fill="#0b4d91"/>
<circle cx="164.33" cy="318.04" r="1.12" fill="#0b4d91"/>
<circle cx="162.30" cy="315.10" r="1.12" fill="#0b4d91"/>
<circle cx="164.80" cy="317.43" r="1.12" fill="#0b4d91"/>
<circle cx="163.45" cy="312.04" r="1.12" fill="#0b4d91"/>
<circle cx="161.92" cy="315.36" r="1.12" fill="#0b4d91"/>
<circle cx="163.02" cy="312.75" r="1.12" fill="#0b4d91"/>
<circle cx="163.77" cy="316.00" r="1.12" fill="#0b4d91"/>
<circle cx="163.28" cy="341.86" r="1.12" fill="#0b4d91"/>
<circle cx="164.14" cy="313.24" r="1.12" fill="#0b4d91"/>
<circle cx="162.22" cy="311.69" r="1.12" fill="#0b4d91"/>
<circle cx="164.57" cy="334.29" r="1.12" fill="#0b4d91"/>
<circle cx="163.01" cy="315.00" r="1.12" fill="#0b4d91"/>
<circle cx="164.02" cy="331.35" r="1.12" fill="#0b4d91"/>
<circle cx="179.84" cy="307.20" r="1.12" fill="#d90d2b"/>
<circle cx="176.80" cy="343.20" r="1.12" fill="#d90d2b"/>
<circle cx="179.65" cy="318.60" r="1.12" fill="#d90d2b"/>
<circle cx="179.57" cy="326.00" r="1.12" fill="#d90d2b"/>
<circle cx="179.77" cy="335.50" r="1.12" fill="#d90d2b"/>
<circle cx="178.71" cy="311.42" r="1.12" fill="#d90d2b"/>
<circle cx="177.64" cy="339.83" r="1.12" fill="#d90d2b"/>
<circle cx="179.71" cy="322.38" r="1.12" fill="#d90d2b"/>
<circle cx="179.56" cy="336.01" r="1.12" fill="#d90d2b"/>
<circle cx="179.11" cy="318.81" r="1.12" fill="#d90d2b"/>
<circle cx="179.94" cy="308.56" r="1.12" fill="#d90d2b"/>
<circle cx="177.90" cy="328.21" r="1.12" fill="#d90d2b"/>
<circle cx="176.96" cy="310.20" r="1.12" fill="#d90d2b"/>
<circle cx="178.64" cy="318.69" r="1.12" fill="#d90d2b"/>
<circle cx="179.52" cy="326.60" r="1.12" fill="#d90d2b"/>
<circle cx="191.39" cy="312.20" r="1.12" fill="#22b838"/>
<circle cx="191.01" cy="346.60" r="1.12" fill="#22b838"/>
<circle cx="194.44" cy="331.80" r="1.12" fill="#22b838"/>
<circle cx="192.20" cy="315.06" r="1.12" fill="#22b838"/>
<circle cx="191.23" cy="326.33" r="1.12" fill="#22b838"/>
<circle cx="193.13" cy="322.29" r="1.12" fill="#22b838"/>
<circle cx="193.68" cy="339.48" r="1.12" fill="#22b838"/>
<circle cx="191.41" cy="332.89" r="1.12" fill="#22b838"/>
<circle cx="193.00" cy="315.23" r="1.12" fill="#22b838"/>
<circle cx="192.09" cy="340.13" r="1.12" fill="#22b838"/>
<circle cx="192.72" cy="328.72" r="1.12" fill="#22b838"/>
<circle cx="190.92" cy="321.09" r="1.12" fill="#22b838"/>
<circle cx="190.97" cy="330.86" r="1.12" fill="#22b838"/>
<circle cx="194.42" cy="328.24" r="1.12" fill="#22b838"/>
<circle cx="193.97" cy="327.33" r="1.12" fill="#22b838"/>
<circle cx="208.16" cy="296.10" r="1.12" fill="#0b4d91"/>
<circle cx="207.17" cy="359.30" r="1.12" fill="#0b4d91"/>
<circle cx="207.36" cy="324.20" r="1.12" fill="#0b4d91"/>
<circle cx="206.33" cy="330.81" r="1.12" fill="#0b4d91"/>
<circle cx="209.23" cy="336.03" r="1.12" fill="#0b4d91"/>
<circle cx="209.32" cy="358.05" r="1.12" fill="#0b4d91"/>
<circle cx="206.55" cy="307.68" r="1.12" fill="#0b4d91"/>
<circle cx="205.89" cy="312.14" r="1.12" fill="#0b4d91"/>
<circle cx="206.67" cy="308.09" r="1.12" fill="#0b4d91"/>
<circle cx="207.02" cy="333.66" r="1.12" fill="#0b4d91"/>
<circle cx="209.00" cy="336.05" r="1.12" fill="#0b4d91"/>
<circle cx="209.01" cy="301.93" r="1.12" fill="#0b4d91"/>
<circle cx="208.76" cy="310.24" r="1.12" fill="#0b4d91"/>
<circle cx="205.92" cy="302.33" r="1.12" fill="#0b4d91"/>
<circle cx="208.58" cy="336.34" r="1.12" fill="#0b4d91"/>
<circle cx="223.99" cy="275.20" r="1.12" fill="#d90d2b"/>
<circle cx="223.68" cy="352.30" r="1.12" fill="#d90d2b"/>
<circle cx="222.91" cy="351.46" r="1.12" fill="#d90d2b"/>
<circle cx="222.28" cy="294.72" r="1.12" fill="#d90d2b"/>
<circle cx="221.87" cy="335.49" r="1.12" fill="#d90d2b"/>
<circle cx="223.61" cy="305.89" r="1.12" fill="#d90d2b"/>
<circle cx="222.37" cy="288.48" r="1.12" fill="#d90d2b"/>
<circle cx="222.91" cy="294.20" r="1.12" fill="#d90d2b"/>
<circle cx="221.16" cy="295.31" r="1.12" fill="#d90d2b"/>
<circle cx="221.45" cy="294.68" r="1.12" fill="#d90d2b"/>
<circle cx="220.85" cy="291.42" r="1.12" fill="#d90d2b"/>
<circle cx="223.22" cy="291.02" r="1.12" fill="#d90d2b"/>
<circle cx="222.64" cy="276.85" r="1.12" fill="#d90d2b"/>
<circle cx="221.17" cy="317.65" r="1.12" fill="#d90d2b"/>
<circle cx="223.78" cy="293.52" r="1.12" fill="#d90d2b"/>
<circle cx="222.60" cy="268.00" r="1.12" fill="#d90d2b"/>
<circle cx="235.76" cy="297.30" r="1.12" fill="#22b838"/>
<circle cx="238.22" cy="363.50" r="1.12" fill="#22b838"/>
<circle cx="234.76" cy="314.81" r="1.12" fill="#22b838"/>
<circle cx="237.61" cy="310.91" r="1.12" fill="#22b838"/>
<circle cx="235.93" cy="303.05" r="1.12" fill="#22b838"/>
<circle cx="235.20" cy="312.21" r="1.12" fill="#22b838"/>
<circle cx="234.71" cy="297.51" r="1.12" fill="#22b838"/>
<circle cx="237.70" cy="328.19" r="1.12" fill="#22b838"/>
<circle cx="236.60" cy="309.25" r="1.12" fill="#22b838"/>
<circle cx="235.37" cy="311.33" r="1.12" fill="#22b838"/>
<circle cx="236.27" cy="308.98" r="1.12" fill="#22b838"/>
<circle cx="237.98" cy="330.85" r="1.12" fill="#22b838"/>
<circle cx="235.49" cy="331.88" r="1.12" fill="#22b838"/>
<circle cx="236.76" cy="328.22" r="1.12" fill="#22b838"/>
<circle cx="235.20" cy="323.52" r="1.12" fill="#22b838"/>
<circle cx="252.69" cy="320.30" r="1.12" fill="#0b4d91"/>
<circle cx="251.02" cy="370.20" r="1.12" fill="#0b4d91"/>
<circle cx="250.29" cy="342.12" r="1.12" fill="#0b4d91"/>
<circle cx="251.04" cy="327.28" r="1.12" fill="#0b4d91"/>
<circle cx="251.84" cy="339.02" r="1.12" fill="#0b4d91"/>
<circle cx="249.72" cy="332.63" r="1.12" fill="#0b4d91"/>
<circle cx="251.57" cy="339.10" r="1.12" fill="#0b4d91"/>
<circle cx="251.30" cy="356.49" r="1.12" fill="#0b4d91"/>
<circle cx="251.56" cy="328.65" r="1.12" fill="#0b4d91"/>
<circle cx="250.13" cy="323.19" r="1.12" fill="#0b4d91"/>
<circle cx="252.27" cy="342.88" r="1.12" fill="#0b4d91"/>
<circle cx="252.64" cy="343.48" r="1.12" fill="#0b4d91"/>
<circle cx="252.82" cy="327.39" r="1.12" fill="#0b4d91"/>
<circle cx="250.86" cy="321.70" r="1.12" fill="#0b4d91"/>
<circle cx="252.26" cy="330.95" r="1.12" fill="#0b4d91"/>
<circle cx="266.48" cy="306.00" r="1.12" fill="#d90d2b"/>
<circle cx="266.50" cy="359.70" r="1.12" fill="#d90d2b"/>
<circle cx="265.71" cy="341.56" r="1.12" fill="#d90d2b"/>
<circle cx="265.14" cy="344.46" r="1.12" fill="#d90d2b"/>
<circle cx="266.16" cy="317.54" r="1.12" fill="#d90d2b"/>
<circle cx="265.19" cy="336.44" r="1.12" fill="#d90d2b"/>
<circle cx="266.83" cy="346.72" r="1.12" fill="#d90d2b"/>
<circle cx="267.80" cy="327.96" r="1.12" fill="#d90d2b"/>
<circle cx="265.23" cy="329.59" r="1.12" fill="#d90d2b"/>
<circle cx="266.76" cy="323.18" r="1.12" fill="#d90d2b"/>
<circle cx="267.39" cy="328.26" r="1.12" fill="#d90d2b"/>
<circle cx="265.29" cy="337.93" r="1.12" fill="#d90d2b"/>
<circle cx="267.67" cy="336.10" r="1.12" fill="#d90d2b"/>
<circle cx="268.08" cy="309.53" r="1.12" fill="#d90d2b"/>
<circle cx="266.10" cy="322.98" r="1.12" fill="#d90d2b"/>
<circle cx="281.65" cy="317.30" r="1.12" fill="#22b838"/>
<circle cx="282.22" cy="369.20" r="1.12" fill="#22b838"/>
<circle cx="281.13" cy="346.23" r="1.12" fill="#22b838"/>
<circle cx="281.76" cy="337.43" r="1.12" fill="#22b838"/>
<circle cx="282.03" cy="352.90" r="1.12" fill="#22b838"/>
<circle cx="282.03" cy="336.23" r="1.12" fill="#22b838"/>
<circle cx="278.97" cy="349.03" r="1.12" fill="#22b838"/>
<circle cx="281.16" cy="363.67" r="1.12" fill="#22b838"/>
<circle cx="279.81" cy="325.31" r="1.12" fill="#22b838"/>
<circle cx="281.29" cy="351.54" r="1.12" fill="#22b838"/>
<circle cx="279.83" cy="342.13" r="1.12" fill="#22b838"/>
<circle cx="280.80" cy="340.11" r="1.12" fill="#22b838"/>
<circle cx="282.18" cy="338.17" r="1.12" fill="#22b838"/>
<circle cx="281.09" cy="330.01" r="1.12" fill="#22b838"/>
<circle cx="279.75" cy="348.80" r="1.12" fill="#22b838"/>
<circle cx="296.36" cy="351.50" r="1.12" fill="#0b4d91"/>
<circle cx="295.46" cy="383.20" r="1.12" fill="#0b4d91"/>
<circle cx="295.77" cy="361.35" r="1.12" fill="#0b4d91"/>
<circle cx="296.01" cy="356.52" r="1.12" fill="#0b4d91"/>
<circle cx="295.49" cy="358.50" r="1.12" fill="#0b4d91"/>
<circle cx="294.92" cy="366.10" r="1.12" fill="#0b4d91"/>
<circle cx="294.67" cy="359.84" r="1.12" fill="#0b4d91"/>
<circle cx="294.60" cy="362.26" r="1.12" fill="#0b4d91"/>
<circle cx="295.64" cy="358.53" r="1.12" fill="#0b4d91"/>
<circle cx="295.18" cy="360.07" r="1.12" fill="#0b4d91"/>
<circle cx="295.91" cy="360.02" r="1.12" fill="#0b4d91"/>
<circle cx="293.84" cy="358.20" r="1.12" fill="#0b4d91"/>
<circle cx="295.07" cy="365.04" r="1.12" fill="#0b4d91"/>
<circle cx="296.90" cy="362.59" r="1.12" fill="#0b4d91"/>
<circle cx="294.66" cy="359.23" r="1.12" fill="#0b4d91"/>
<circle cx="296.00" cy="336.60" r="1.12" fill="#0b4d91"/>
<circle cx="311.20" cy="329.80" r="1.12" fill="#d90d2b"/>
<circle cx="311.94" cy="382.20" r="1.12" fill="#d90d2b"/>
<circle cx="309.11" cy="354.07" r="1.12" fill="#d90d2b"/>
<circle cx="311.78" cy="364.24" r="1.12" fill="#d90d2b"/>
<circle cx="308.67" cy="359.83" r="1.12" fill="#d90d2b"/>
<circle cx="311.41" cy="345.37" r="1.12" fill="#d90d2b"/>
<circle cx="310.76" cy="343.83" r="1.12" fill="#d90d2b"/>
<circle cx="310.44" cy="353.02" r="1.12" fill="#d90d2b"/>
<circle cx="312.12" cy="342.69" r="1.12" fill="#d90d2b"/>
<circle cx="310.71" cy="365.39" r="1.12" fill="#d90d2b"/>
<circle cx="310.15" cy="351.23" r="1.12" fill="#d90d2b"/>
<circle cx="311.47" cy="356.63" r="1.12" fill="#d90d2b"/>
<circle cx="311.79" cy="370.67" r="1.12" fill="#d90d2b"/>
<circle cx="310.84" cy="375.90" r="1.12" fill="#d90d2b"/>
<circle cx="310.02" cy="360.09" r="1.12" fill="#d90d2b"/>
<circle cx="326.11" cy="345.00" r="1.12" fill="#22b838"/>
<circle cx="325.58" cy="386.20" r="1.12" fill="#22b838"/>
<circle cx="324.74" cy="363.90" r="1.12" fill="#22b838"/>
<circle cx="326.39" cy="354.64" r="1.12" fill="#22b838"/>
<circle cx="324.66" cy="362.86" r="1.12" fill="#22b838"/>
<circle cx="324.66" cy="368.58" r="1.12" fill="#22b838"/>
<circle cx="325.27" cy="354.02" r="1.12" fill="#22b838"/>
<circle cx="324.20" cy="361.72" r="1.12" fill="#22b838"/>
<circle cx="324.09" cy="365.57" r="1.12" fill="#22b838"/>
<circle cx="324.94" cy="358.65" r="1.12" fill="#22b838"/>
<circle cx="324.06" cy="347.96" r="1.12" fill="#22b838"/>
<circle cx="326.21" cy="372.75" r="1.12" fill="#22b838"/>
<circle cx="325.24" cy="370.33" r="1.12" fill="#22b838"/>
<circle cx="324.69" cy="358.07" r="1.12" fill="#22b838"/>
<circle cx="323.16" cy="364.46" r="1.12" fill="#22b838"/>
<circle cx="339.92" cy="320.70" r="1.12" fill="#0b4d91"/>
<circle cx="339.82" cy="357.90" r="1.12" fill="#0b4d91"/>
<circle cx="338.92" cy="336.70" r="1.12" fill="#0b4d91"/>
<circle cx="341.23" cy="340.37" r="1.12" fill="#0b4d91"/>
<circle cx="339.94" cy="352.09" r="1.12" fill="#0b4d91"/>
<circle cx="337.80" cy="341.44" r="1.12" fill="#0b4d91"/>
<circle cx="339.13" cy="325.48" r="1.12" fill="#0b4d91"/>
<circle cx="340.49" cy="327.00" r="1.12" fill="#0b4d91"/>
<circle cx="338.75" cy="352.32" r="1.12" fill="#0b4d91"/>
<circle cx="340.14" cy="347.16" r="1.12" fill="#0b4d91"/>
<circle cx="337.66" cy="345.60" r="1.12" fill="#0b4d91"/>
<circle cx="338.75" cy="351.53" r="1.12" fill="#0b4d91"/>
<circle cx="340.68" cy="334.35" r="1.12" fill="#0b4d91"/>
<circle cx="339.76" cy="338.90" r="1.12" fill="#0b4d91"/>
<circle cx="340.06" cy="332.07" r="1.12" fill="#0b4d91"/>
<circle cx="354.32" cy="317.50" r="1.12" fill="#d90d2b"/>
<circle cx="354.09" cy="359.40" r="1.12" fill="#d90d2b"/>
<circle cx="352.90" cy="330.96" r="1.12" fill="#d90d2b"/>
<circle cx="355.91" cy="326.88" r="1.12" fill="#d90d2b"/>
<circle cx="354.80" cy="331.55" r="1.12" fill="#d90d2b"/>
<circle cx="356.15" cy="344.53" r="1.12" fill="#d90d2b"/>
<circle cx="354.28" cy="324.96" r="1.12" fill="#d90d2b"/>
<circle cx="354.93" cy="322.08" r="1.12" fill="#d90d2b"/>
<circle cx="353.60" cy="331.40" r="1.12" fill="#d90d2b"/>
<circle cx="352.86" cy="353.70" r="1.12" fill="#d90d2b"/>
<circle cx="356.05" cy="322.42" r="1.12" fill="#d90d2b"/>
<circle cx="355.78" cy="319.45" r="1.12" fill="#d90d2b"/>
<circle cx="353.83" cy="325.18" r="1.12" fill="#d90d2b"/>
<circle cx="355.94" cy="323.95" r="1.12" fill="#d90d2b"/>
<circle cx="355.64" cy="343.44" r="1.12" fill="#d90d2b"/>
<circle cx="354.70" cy="296.00" r="1.12" fill="#d90d2b"/>
<circle cx="367.80" cy="323.60" r="1.12" fill="#22b838"/>
<circle cx="367.08" cy="377.90" r="1.12" fill="#22b838"/>
<circle cx="369.34" cy="348.48" r="1.12" fill="#22b838"/>
<circle cx="368.18" cy="324.74" r="1.12" fill="#22b838"/>
<circle cx="367.51" cy="344.78" r="1.12" fill="#22b838"/>
<circle cx="369.49" cy="335.80" r="1.12" fill="#22b838"/>
<circle cx="367.28" cy="328.07" r="1.12" fill="#22b838"/>
<circle cx="367.92" cy="341.02" r="1.12" fill="#22b838"/>
<circle cx="369.96" cy="341.25" r="1.12" fill="#22b838"/>
<circle cx="367.41" cy="332.28" r="1.12" fill="#22b838"/>
<circle cx="368.55" cy="347.29" r="1.12" fill="#22b838"/>
<circle cx="369.96" cy="345.02" r="1.12" fill="#22b838"/>
<circle cx="369.85" cy="340.15" r="1.12" fill="#22b838"/>
<circle cx="367.52" cy="336.48" r="1.12" fill="#22b838"/>
<circle cx="368.22" cy="342.93" r="1.12" fill="#22b838"/>
<circle cx="382.39" cy="366.80" r="1.12" fill="#0b4d91"/>
<circle cx="384.81" cy="410.60" r="1.12" fill="#0b4d91"/>
<circle cx="382.91" cy="367.61" r="1.12" fill="#0b4d91"/>
<circle cx="384.14" cy="393.75" r="1.12" fill="#0b4d91"/>
<circle cx="382.14" cy="382.68" r="1.12" fill="#0b4d91"/>
<circle cx="383.77" cy="381.20" r="1.12" fill="#0b4d91"/>
<circle cx="383.05" cy="368.73" r="1.12" fill="#0b4d91"/>
<circle cx="383.55" cy="384.83" r="1.12" fill="#0b4d91"/>
<circle cx="382.82" cy="388.51" r="1.12" fill="#0b4d91"/>
<circle cx="381.99" cy="392.55" r="1.12" fill="#0b4d91"/>
<circle cx="382.87" cy="387.05" r="1.12" fill="#0b4d91"/>
<circle cx="382.57" cy="383.34" r="1.12" fill="#0b4d91"/>
<circle cx="382.20" cy="372.86" r="1.12" fill="#0b4d91"/>
<circle cx="384.33" cy="383.96" r="1.12" fill="#0b4d91"/>
<circle cx="382.77" cy="380.52" r="1.12" fill="#0b4d91"/>
<circle cx="384.50" cy="363.80" r="1.12" fill="#0b4d91"/>
<circle cx="396.84" cy="357.80" r="1.12" fill="#d90d2b"/>
<circle cx="397.82" cy="405.50" r="1.12" fill="#d90d2b"/>
<circle cx="399.00" cy="386.67" r="1.12" fill="#d90d2b"/>
<circle cx="397.35" cy="401.87" r="1.12" fill="#d90d2b"/>
<circle cx="399.72" cy="374.65" r="1.12" fill="#d90d2b"/>
<circle cx="398.75" cy="382.31" r="1.12" fill="#d90d2b"/>
<circle cx="399.28" cy="376.08" r="1.12" fill="#d90d2b"/>
<circle cx="397.62" cy="381.92" r="1.12" fill="#d90d2b"/>
<circle cx="398.27" cy="374.12" r="1.12" fill="#d90d2b"/>
<circle cx="399.16" cy="363.88" r="1.12" fill="#d90d2b"/>
<circle cx="397.96" cy="371.59" r="1.12" fill="#d90d2b"/>
<circle cx="396.70" cy="398.34" r="1.12" fill="#d90d2b"/>
<circle cx="399.70" cy="370.16" r="1.12" fill="#d90d2b"/>
<circle cx="399.50" cy="373.16" r="1.12" fill="#d90d2b"/>
<circle cx="397.73" cy="376.63" r="1.12" fill="#d90d2b"/>
<circle cx="399.00" cy="346.00" r="1.12" fill="#d90d2b"/>
<circle cx="411.06" cy="377.50" r="1.12" fill="#22b838"/>
<circle cx="413.43" cy="425.60" r="1.12" fill="#22b838"/>
<circle cx="413.80" cy="398.49" r="1.12" fill="#22b838"/>
<circle cx="411.84" cy="386.79" r="1.12" fill="#22b838"/>
<circle cx="412.87" cy="387.71" r="1.12" fill="#22b838"/>
<circle cx="414.39" cy="378.65" r="1.12" fill="#22b838"/>
<circle cx="413.20" cy="381.30" r="1.12" fill="#22b838"/>
<circle cx="412.86" cy="396.94" r="1.12" fill="#22b838"/>
<circle cx="411.80" cy="385.92" r="1.12" fill="#22b838"/>
<circle cx="411.11" cy="378.44" r="1.12" fill="#22b838"/>
<circle cx="412.19" cy="396.81" r="1.12" fill="#22b838"/>
<circle cx="412.38" cy="407.64" r="1.12" fill="#22b838"/>
<circle cx="411.63" cy="396.22" r="1.12" fill="#22b838"/>
<circle cx="412.02" cy="393.52" r="1.12" fill="#22b838"/>
<circle cx="411.39" cy="380.53" r="1.12" fill="#22b838"/>
<circle cx="412.00" cy="370.50" r="1.12" fill="#22b838"/>
<rect x="54.2" y="258.1" width="380.7" height="173.89999999999998" class="fr"/>
<line x1="90.20" y1="432.00" x2="90.20" y2="435.00" class="ax"/>
<text x="0" y="0" class="xl" text-anchor="end" transform="translate(94.70,441.80) rotate(-45) scale(0.91,1)">LPC(16:1/0:0)</text>
<line x1="134.20" y1="432.00" x2="134.20" y2="435.00" class="ax"/>
<text x="0" y="0" class="xl" text-anchor="end" transform="translate(138.70,441.80) rotate(-45) scale(0.91,1)">LPC(18:0/0:0)</text>
<line x1="178.20" y1="432.00" x2="178.20" y2="435.00" class="ax"/>
<text x="0" y="0" class="xl" text-anchor="end" transform="translate(182.70,441.80) rotate(-45) scale(0.91,1)">LPC(0:0/18:1)</text>
<line x1="222.20" y1="432.00" x2="222.20" y2="435.00" class="ax"/>
<text x="0" y="0" class="xl" text-anchor="end" transform="translate(226.70,441.80) rotate(-45) scale(0.91,1)">LPC(18:2/0:0)</text>
<line x1="266.20" y1="432.00" x2="266.20" y2="435.00" class="ax"/>
<text x="0" y="0" class="xl" text-anchor="end" transform="translate(270.70,441.80) rotate(-45) scale(0.91,1)">LPC(0:0/18:2)</text>
<line x1="310.20" y1="432.00" x2="310.20" y2="435.00" class="ax"/>
<text x="0" y="0" class="xl" text-anchor="end" transform="translate(314.70,441.80) rotate(-45) scale(0.91,1)">LPC(20:3/0:0)</text>
<line x1="354.20" y1="432.00" x2="354.20" y2="435.00" class="ax"/>
<text x="0" y="0" class="xl" text-anchor="end" transform="translate(358.70,441.80) rotate(-45) scale(0.91,1)">LPC(20:4/0:0)</text>
<line x1="398.20" y1="432.00" x2="398.20" y2="435.00" class="ax"/>
<text x="0" y="0" class="xl" text-anchor="end" transform="translate(402.70,441.80) rotate(-45) scale(0.91,1)">LPC(22:6/0:0)</text>
<text x="8.3" y="497.3" class="pl">Diii</text>
<line x1="51.00" y1="509.60" x2="54.00" y2="509.60" class="ax"/>
<text x="0" y="0" class="tl" text-anchor="end" transform="translate(47.40,512.40) scale(0.9,1)">1e+03</text>
<line x1="51.00" y1="523.48" x2="54.00" y2="523.48" class="ax"/>
<text x="0" y="0" class="tl" text-anchor="end" transform="translate(47.40,526.28) scale(0.9,1)">5e+02</text>
<line x1="51.00" y1="555.70" x2="54.00" y2="555.70" class="ax"/>
<text x="0" y="0" class="tl" text-anchor="end" transform="translate(47.40,558.50) scale(0.9,1)">1e+02</text>
<line x1="51.00" y1="569.58" x2="54.00" y2="569.58" class="ax"/>
<text x="0" y="0" class="tl" text-anchor="end" transform="translate(47.40,572.38) scale(0.9,1)">5e+01</text>
<line x1="51.00" y1="601.80" x2="54.00" y2="601.80" class="ax"/>
<text x="0" y="0" class="tl" text-anchor="end" transform="translate(47.40,604.60) scale(0.9,1)">1e+01</text>
<line x1="51.00" y1="615.68" x2="54.00" y2="615.68" class="ax"/>
<text x="0" y="0" class="tl" text-anchor="end" transform="translate(47.40,618.48) scale(0.9,1)">5e+00</text>
<line x1="51.00" y1="647.90" x2="54.00" y2="647.90" class="ax"/>
<text x="0" y="0" class="tl" text-anchor="end" transform="translate(47.40,650.70) scale(0.9,1)">1e+00</text>
<line x1="51.00" y1="661.78" x2="54.00" y2="661.78" class="ax"/>
<text x="0" y="0" class="tl" text-anchor="end" transform="translate(47.40,664.58) scale(0.9,1)">5e-01</text>
<text x="0" y="0" class="yt" text-anchor="middle" transform="translate(16.00,583.10) rotate(-90) scale(0.95,1)">Concentration [ng/mL]</text>
<line x1="73.30" y1="599.00" x2="73.30" y2="605.30" class="w"/>
<line x1="73.30" y1="612.80" x2="73.30" y2="619.60" class="w"/>
<line x1="69.20" y1="599.00" x2="77.40" y2="599.00" class="w"/>
<line x1="69.20" y1="619.60" x2="77.40" y2="619.60" class="w"/>
<rect x="65.10" y="605.30" width="16.40" height="7.50" fill="#8dabc7" class="b"/>
<line x1="65.10" y1="610.10" x2="81.50" y2="610.10" class="m"/>
<line x1="93.40" y1="578.30" x2="93.40" y2="581.10" class="w"/>
<line x1="93.40" y1="604.20" x2="93.40" y2="664.50" class="w"/>
<line x1="89.30" y1="578.30" x2="97.50" y2="578.30" class="w"/>
<line x1="89.30" y1="664.50" x2="97.50" y2="664.50" class="w"/>
<rect x="85.20" y="581.10" width="16.40" height="23.10" fill="#e28a98" class="b"/>
<line x1="85.20" y1="596.60" x2="101.60" y2="596.60" class="m"/>
<line x1="113.40" y1="580.50" x2="113.40" y2="589.90" class="w"/>
<line x1="113.40" y1="603.20" x2="113.40" y2="618.00" class="w"/>
<line x1="109.30" y1="580.50" x2="117.50" y2="580.50" class="w"/>
<line x1="109.30" y1="618.00" x2="117.50" y2="618.00" class="w"/>
<rect x="105.20" y="589.90" width="16.40" height="13.30" fill="#9ddca7" class="b"/>
<line x1="105.20" y1="599.00" x2="121.60" y2="599.00" class="m"/>
<line x1="132.75" y1="532.40" x2="132.75" y2="541.60" class="w"/>
<line x1="132.75" y1="553.70" x2="132.75" y2="563.00" class="w"/>
<line x1="128.65" y1="532.40" x2="136.85" y2="532.40" class="w"/>
<line x1="128.65" y1="563.00" x2="136.85" y2="563.00" class="w"/>
<rect x="124.55" y="541.60" width="16.40" height="12.10" fill="#8dabc7" class="b"/>
<line x1="124.55" y1="548.30" x2="140.95" y2="548.30" class="m"/>
<line x1="152.80" y1="503.00" x2="152.80" y2="516.80" class="w"/>
<line x1="152.80" y1="542.20" x2="152.80" y2="567.90" class="w"/>
<line x1="148.70" y1="503.00" x2="156.90" y2="503.00" class="w"/>
<line x1="148.70" y1="567.90" x2="156.90" y2="567.90" class="w"/>
<rect x="144.60" y="516.80" width="16.40" height="25.40" fill="#e28a98" class="b"/>
<line x1="144.60" y1="534.50" x2="161.00" y2="534.50" class="m"/>
<line x1="172.70" y1="522.50" x2="172.70" y2="533.30" class="w"/>
<line x1="172.70" y1="546.20" x2="172.70" y2="559.70" class="w"/>
<line x1="168.60" y1="522.50" x2="176.80" y2="522.50" class="w"/>
<line x1="168.60" y1="559.70" x2="176.80" y2="559.70" class="w"/>
<rect x="164.50" y="533.30" width="16.40" height="12.90" fill="#9ddca7" class="b"/>
<line x1="164.50" y1="540.20" x2="180.90" y2="540.20" class="m"/>
<line x1="192.45" y1="579.40" x2="192.45" y2="585.30" class="w"/>
<line x1="192.45" y1="600.60" x2="192.45" y2="610.60" class="w"/>
<line x1="188.35" y1="579.40" x2="196.55" y2="579.40" class="w"/>
<line x1="188.35" y1="610.60" x2="196.55" y2="610.60" class="w"/>
<rect x="184.25" y="585.30" width="16.40" height="15.30" fill="#8dabc7" class="b"/>
<line x1="184.25" y1="595.30" x2="200.65" y2="595.30" class="m"/>
<line x1="212.55" y1="564.90" x2="212.55" y2="573.70" class="w"/>
<line x1="212.55" y1="594.40" x2="212.55" y2="608.40" class="w"/>
<line x1="208.45" y1="564.90" x2="216.65" y2="564.90" class="w"/>
<line x1="208.45" y1="608.40" x2="216.65" y2="608.40" class="w"/>
<rect x="204.35" y="573.70" width="16.40" height="20.70" fill="#e28a98" class="b"/>
<line x1="204.35" y1="587.50" x2="220.75" y2="587.50" class="m"/>
<line x1="232.65" y1="553.20" x2="232.65" y2="564.60" class="w"/>
<line x1="232.65" y1="590.50" x2="232.65" y2="622.30" class="w"/>
<line x1="228.55" y1="553.20" x2="236.75" y2="553.20" class="w"/>
<line x1="228.55" y1="622.30" x2="236.75" y2="622.30" class="w"/>
<rect x="224.45" y="564.60" width="16.40" height="25.90" fill="#9ddca7" class="b"/>
<line x1="224.45" y1="584.10" x2="240.85" y2="584.10" class="m"/>
<line x1="252.30" y1="566.30" x2="252.30" y2="568.40" class="w"/>
<line x1="252.30" y1="583.20" x2="252.30" y2="596.00" class="w"/>
<line x1="248.20" y1="566.30" x2="256.40" y2="566.30" class="w"/>
<line x1="248.20" y1="596.00" x2="256.40" y2="596.00" class="w"/>
<rect x="244.10" y="568.40" width="16.40" height="14.80" fill="#8dabc7" class="b"/>
<line x1="244.10" y1="573.30" x2="260.50" y2="573.30" class="m"/>
<line x1="272.40" y1="563.00" x2="272.40" y2="566.10" class="w"/>
<line x1="272.40" y1="579.10" x2="272.40" y2="598.40" class="w"/>
<line x1="268.30" y1="563.00" x2="276.50" y2="563.00" class="w"/>
<line x1="268.30" y1="598.40" x2="276.50" y2="598.40" class="w"/>
<rect x="264.20" y="566.10" width="16.40" height="13.00" fill="#e28a98" class="b"/>
<line x1="264.20" y1="569.70" x2="280.60" y2="569.70" class="m"/>
<line x1="292.50" y1="563.40" x2="292.50" y2="575.40" class="w"/>
<line x1="292.50" y1="599.30" x2="292.50" y2="602.40" class="w"/>
<line x1="288.40" y1="563.40" x2="296.60" y2="563.40" class="w"/>
<line x1="288.40" y1="602.40" x2="296.60" y2="602.40" class="w"/>
<rect x="284.30" y="575.40" width="16.40" height="23.90" fill="#9ddca7" class="b"/>
<line x1="284.30" y1="586.50" x2="300.70" y2="586.50" class="m"/>
<circle cx="74.03" cy="599.00" r="1.12" fill="#0b4d91"/>
<circle cx="73.11" cy="619.60" r="1.12" fill="#0b4d91"/>
<circle cx="71.91" cy="613.48" r="1.12" fill="#0b4d91"/>
<circle cx="72.67" cy="609.17" r="1.12" fill="#0b4d91"/>
<circle cx="73.19" cy="612.32" r="1.12" fill="#0b4d91"/>
<circle cx="72.81" cy="607.55" r="1.12" fill="#0b4d91"/>
<circle cx="72.11" cy="602.79" r="1.12" fill="#0b4d91"/>
<circle cx="71.76" cy="611.42" r="1.12" fill="#0b4d91"/>
<circle cx="71.54" cy="611.00" r="1.12" fill="#0b4d91"/>
<circle cx="75.07" cy="610.30" r="1.12" fill="#0b4d91"/>
<circle cx="74.20" cy="608.76" r="1.12" fill="#0b4d91"/>
<circle cx="71.80" cy="613.01" r="1.12" fill="#0b4d91"/>
<circle cx="74.08" cy="608.00" r="1.12" fill="#0b4d91"/>
<circle cx="75.03" cy="605.75" r="1.12" fill="#0b4d91"/>
<circle cx="73.53" cy="606.78" r="1.12" fill="#0b4d91"/>
<circle cx="72.00" cy="594.20" r="1.12" fill="#0b4d91"/>
<circle cx="74.00" cy="597.00" r="1.12" fill="#0b4d91"/>
<circle cx="74.00" cy="636.60" r="1.12" fill="#0b4d91"/>
<circle cx="93.58" cy="578.30" r="1.12" fill="#d90d2b"/>
<circle cx="92.93" cy="664.50" r="1.12" fill="#d90d2b"/>
<circle cx="94.59" cy="592.39" r="1.12" fill="#d90d2b"/>
<circle cx="92.46" cy="585.48" r="1.12" fill="#d90d2b"/>
<circle cx="91.75" cy="581.29" r="1.12" fill="#d90d2b"/>
<circle cx="93.64" cy="632.83" r="1.12" fill="#d90d2b"/>
<circle cx="93.86" cy="610.82" r="1.12" fill="#d90d2b"/>
<circle cx="94.55" cy="584.30" r="1.12" fill="#d90d2b"/>
<circle cx="94.14" cy="598.99" r="1.12" fill="#d90d2b"/>
<circle cx="94.86" cy="580.91" r="1.12" fill="#d90d2b"/>
<circle cx="95.00" cy="600.64" r="1.12" fill="#d90d2b"/>
<circle cx="93.38" cy="579.20" r="1.12" fill="#d90d2b"/>
<circle cx="93.40" cy="614.27" r="1.12" fill="#d90d2b"/>
<circle cx="92.17" cy="600.17" r="1.12" fill="#d90d2b"/>
<circle cx="92.68" cy="589.61" r="1.12" fill="#d90d2b"/>
<circle cx="94.00" cy="559.90" r="1.12" fill="#d90d2b"/>
<circle cx="93.00" cy="565.50" r="1.12" fill="#d90d2b"/>
<circle cx="112.85" cy="580.50" r="1.12" fill="#22b838"/>
<circle cx="112.30" cy="618.00" r="1.12" fill="#22b838"/>
<circle cx="111.91" cy="590.97" r="1.12" fill="#22b838"/>
<circle cx="112.77" cy="592.08" r="1.12" fill="#22b838"/>
<circle cx="113.26" cy="602.80" r="1.12" fill="#22b838"/>
<circle cx="115.10" cy="590.43" r="1.12" fill="#22b838"/>
<circle cx="114.87" cy="592.44" r="1.12" fill="#22b838"/>
<circle cx="114.72" cy="582.78" r="1.12" fill="#22b838"/>
<circle cx="115.11" cy="606.97" r="1.12" fill="#22b838"/>
<circle cx="115.06" cy="598.70" r="1.12" fill="#22b838"/>
<circle cx="113.83" cy="595.50" r="1.12" fill="#22b838"/>
<circle cx="114.52" cy="595.73" r="1.12" fill="#22b838"/>
<circle cx="111.82" cy="600.89" r="1.12" fill="#22b838"/>
<circle cx="114.04" cy="588.56" r="1.12" fill="#22b838"/>
<circle cx="113.79" cy="597.39" r="1.12" fill="#22b838"/>
<circle cx="111.40" cy="576.20" r="1.12" fill="#22b838"/>
<circle cx="132.71" cy="532.40" r="1.12" fill="#0b4d91"/>
<circle cx="132.94" cy="563.00" r="1.12" fill="#0b4d91"/>
<circle cx="131.77" cy="548.51" r="1.12" fill="#0b4d91"/>
<circle cx="133.01" cy="537.01" r="1.12" fill="#0b4d91"/>
<circle cx="131.36" cy="545.76" r="1.12" fill="#0b4d91"/>
<circle cx="132.80" cy="540.96" r="1.12" fill="#0b4d91"/>
<circle cx="133.07" cy="547.01" r="1.12" fill="#0b4d91"/>
<circle cx="131.24" cy="549.59" r="1.12" fill="#0b4d91"/>
<circle cx="132.42" cy="548.63" r="1.12" fill="#0b4d91"/>
<circle cx="131.21" cy="548.01" r="1.12" fill="#0b4d91"/>
<circle cx="132.53" cy="546.40" r="1.12" fill="#0b4d91"/>
<circle cx="134.06" cy="543.78" r="1.12" fill="#0b4d91"/>
<circle cx="132.93" cy="553.98" r="1.12" fill="#0b4d91"/>
<circle cx="133.52" cy="541.39" r="1.12" fill="#0b4d91"/>
<circle cx="133.67" cy="544.64" r="1.12" fill="#0b4d91"/>
<circle cx="132.00" cy="528.00" r="1.12" fill="#0b4d91"/>
<circle cx="152.23" cy="503.00" r="1.12" fill="#d90d2b"/>
<circle cx="153.75" cy="567.90" r="1.12" fill="#d90d2b"/>
<circle cx="153.45" cy="541.96" r="1.12" fill="#d90d2b"/>
<circle cx="153.97" cy="506.55" r="1.12" fill="#d90d2b"/>
<circle cx="151.44" cy="521.15" r="1.12" fill="#d90d2b"/>
<circle cx="152.34" cy="559.29" r="1.12" fill="#d90d2b"/>
<circle cx="153.65" cy="536.51" r="1.12" fill="#d90d2b"/>
<circle cx="154.41" cy="522.82" r="1.12" fill="#d90d2b"/>
<circle cx="153.60" cy="517.19" r="1.12" fill="#d90d2b"/>
<circle cx="151.16" cy="522.21" r="1.12" fill="#d90d2b"/>
<circle cx="153.17" cy="534.77" r="1.12" fill="#d90d2b"/>
<circle cx="151.36" cy="539.37" r="1.12" fill="#d90d2b"/>
<circle cx="152.98" cy="538.95" r="1.12" fill="#d90d2b"/>
<circle cx="153.89" cy="540.10" r="1.12" fill="#d90d2b"/>
<circle cx="151.41" cy="508.18" r="1.12" fill="#d90d2b"/>
<circle cx="172.61" cy="522.50" r="1.12" fill="#22b838"/>
<circle cx="171.47" cy="559.70" r="1.12" fill="#22b838"/>
<circle cx="173.94" cy="547.71" r="1.12" fill="#22b838"/>
<circle cx="172.32" cy="539.06" r="1.12" fill="#22b838"/>
<circle cx="174.04" cy="546.62" r="1.12" fill="#22b838"/>
<circle cx="173.10" cy="534.72" r="1.12" fill="#22b838"/>
<circle cx="171.17" cy="529.10" r="1.12" fill="#22b838"/>
<circle cx="172.09" cy="542.16" r="1.12" fill="#22b838"/>
<circle cx="171.68" cy="535.16" r="1.12" fill="#22b838"/>
<circle cx="174.12" cy="553.65" r="1.12" fill="#22b838"/>
<circle cx="173.02" cy="546.21" r="1.12" fill="#22b838"/>
<circle cx="171.06" cy="535.25" r="1.12" fill="#22b838"/>
<circle cx="171.51" cy="544.56" r="1.12" fill="#22b838"/>
<circle cx="172.20" cy="532.59" r="1.12" fill="#22b838"/>
<circle cx="172.58" cy="549.22" r="1.12" fill="#22b838"/>
<circle cx="171.00" cy="512.50" r="1.12" fill="#22b838"/>
<circle cx="193.51" cy="579.40" r="1.12" fill="#0b4d91"/>
<circle cx="193.79" cy="610.60" r="1.12" fill="#0b4d91"/>
<circle cx="194.03" cy="591.23" r="1.12" fill="#0b4d91"/>
<circle cx="193.10" cy="585.39" r="1.12" fill="#0b4d91"/>
<circle cx="191.74" cy="590.41" r="1.12" fill="#0b4d91"/>
<circle cx="193.40" cy="592.33" r="1.12" fill="#0b4d91"/>
<circle cx="193.31" cy="585.03" r="1.12" fill="#0b4d91"/>
<circle cx="192.48" cy="589.47" r="1.12" fill="#0b4d91"/>
<circle cx="192.94" cy="592.95" r="1.12" fill="#0b4d91"/>
<circle cx="191.91" cy="594.01" r="1.12" fill="#0b4d91"/>
<circle cx="192.63" cy="599.94" r="1.12" fill="#0b4d91"/>
<circle cx="192.11" cy="582.96" r="1.12" fill="#0b4d91"/>
<circle cx="190.87" cy="607.24" r="1.12" fill="#0b4d91"/>
<circle cx="191.86" cy="595.01" r="1.12" fill="#0b4d91"/>
<circle cx="191.81" cy="589.61" r="1.12" fill="#0b4d91"/>
<circle cx="191.50" cy="564.30" r="1.12" fill="#0b4d91"/>
<circle cx="212.29" cy="564.90" r="1.12" fill="#d90d2b"/>
<circle cx="213.88" cy="608.40" r="1.12" fill="#d90d2b"/>
<circle cx="210.99" cy="571.93" r="1.12" fill="#d90d2b"/>
<circle cx="212.49" cy="578.56" r="1.12" fill="#d90d2b"/>
<circle cx="213.99" cy="576.51" r="1.12" fill="#d90d2b"/>
<circle cx="211.74" cy="591.73" r="1.12" fill="#d90d2b"/>
<circle cx="211.68" cy="582.92" r="1.12" fill="#d90d2b"/>
<circle cx="210.83" cy="579.96" r="1.12" fill="#d90d2b"/>
<circle cx="211.34" cy="575.07" r="1.12" fill="#d90d2b"/>
<circle cx="211.71" cy="580.09" r="1.12" fill="#d90d2b"/>
<circle cx="213.29" cy="607.02" r="1.12" fill="#d90d2b"/>
<circle cx="211.54" cy="592.77" r="1.12" fill="#d90d2b"/>
<circle cx="212.19" cy="575.36" r="1.12" fill="#d90d2b"/>
<circle cx="211.47" cy="585.72" r="1.12" fill="#d90d2b"/>
<circle cx="212.92" cy="567.85" r="1.12" fill="#d90d2b"/>
<circle cx="210.80" cy="547.80" r="1.12" fill="#d90d2b"/>
<circle cx="211.40" cy="559.60" r="1.12" fill="#d90d2b"/>
<circle cx="232.52" cy="553.20" r="1.12" fill="#22b838"/>
<circle cx="230.90" cy="622.30" r="1.12" fill="#22b838"/>
<circle cx="234.18" cy="592.86" r="1.12" fill="#22b838"/>
<circle cx="232.88" cy="604.58" r="1.12" fill="#22b838"/>
<circle cx="234.41" cy="585.57" r="1.12" fill="#22b838"/>
<circle cx="231.05" cy="564.13" r="1.12" fill="#22b838"/>
<circle cx="233.06" cy="578.51" r="1.12" fill="#22b838"/>
<circle cx="233.46" cy="618.47" r="1.12" fill="#22b838"/>
<circle cx="232.03" cy="573.06" r="1.12" fill="#22b838"/>
<circle cx="231.19" cy="598.00" r="1.12" fill="#22b838"/>
<circle cx="231.41" cy="573.35" r="1.12" fill="#22b838"/>
<circle cx="231.36" cy="575.33" r="1.12" fill="#22b838"/>
<circle cx="233.61" cy="580.82" r="1.12" fill="#22b838"/>
<circle cx="231.17" cy="577.40" r="1.12" fill="#22b838"/>
<circle cx="233.78" cy="571.26" r="1.12" fill="#22b838"/>
<circle cx="250.98" cy="566.30" r="1.12" fill="#0b4d91"/>
<circle cx="250.72" cy="596.00" r="1.12" fill="#0b4d91"/>
<circle cx="252.31" cy="576.37" r="1.12" fill="#0b4d91"/>
<circle cx="252.50" cy="576.61" r="1.12" fill="#0b4d91"/>
<circle cx="251.15" cy="577.30" r="1.12" fill="#0b4d91"/>
<circle cx="253.88" cy="579.37" r="1.12" fill="#0b4d91"/>
<circle cx="251.82" cy="578.93" r="1.12" fill="#0b4d91"/>
<circle cx="251.04" cy="585.16" r="1.12" fill="#0b4d91"/>
<circle cx="251.14" cy="586.81" r="1.12" fill="#0b4d91"/>
<circle cx="253.16" cy="576.15" r="1.12" fill="#0b4d91"/>
<circle cx="253.82" cy="568.40" r="1.12" fill="#0b4d91"/>
<circle cx="251.08" cy="578.10" r="1.12" fill="#0b4d91"/>
<circle cx="250.60" cy="566.34" r="1.12" fill="#0b4d91"/>
<circle cx="253.30" cy="579.60" r="1.12" fill="#0b4d91"/>
<circle cx="251.37" cy="568.81" r="1.12" fill="#0b4d91"/>
<circle cx="250.50" cy="536.50" r="1.12" fill="#0b4d91"/>
<circle cx="251.00" cy="552.20" r="1.12" fill="#0b4d91"/>
<circle cx="252.00" cy="554.00" r="1.12" fill="#0b4d91"/>
<circle cx="274.18" cy="563.00" r="1.12" fill="#d90d2b"/>
<circle cx="271.38" cy="598.40" r="1.12" fill="#d90d2b"/>
<circle cx="272.65" cy="564.60" r="1.12" fill="#d90d2b"/>
<circle cx="271.16" cy="576.51" r="1.12" fill="#d90d2b"/>
<circle cx="273.71" cy="570.31" r="1.12" fill="#d90d2b"/>
<circle cx="273.73" cy="564.21" r="1.12" fill="#d90d2b"/>
<circle cx="271.56" cy="574.49" r="1.12" fill="#d90d2b"/>
<circle cx="273.31" cy="577.33" r="1.12" fill="#d90d2b"/>
<circle cx="273.56" cy="573.43" r="1.12" fill="#d90d2b"/>
<circle cx="271.62" cy="578.05" r="1.12" fill="#d90d2b"/>
<circle cx="271.79" cy="580.86" r="1.12" fill="#d90d2b"/>
<circle cx="272.35" cy="569.51" r="1.12" fill="#d90d2b"/>
<circle cx="273.81" cy="569.11" r="1.12" fill="#d90d2b"/>
<circle cx="271.18" cy="575.97" r="1.12" fill="#d90d2b"/>
<circle cx="273.06" cy="569.98" r="1.12" fill="#d90d2b"/>
<circle cx="290.82" cy="563.40" r="1.12" fill="#22b838"/>
<circle cx="291.54" cy="602.40" r="1.12" fill="#22b838"/>
<circle cx="293.55" cy="586.23" r="1.12" fill="#22b838"/>
<circle cx="293.18" cy="596.50" r="1.12" fill="#22b838"/>
<circle cx="290.84" cy="596.52" r="1.12" fill="#22b838"/>
<circle cx="292.52" cy="594.04" r="1.12" fill="#22b838"/>
<circle cx="291.53" cy="565.90" r="1.12" fill="#22b838"/>
<circle cx="292.25" cy="575.37" r="1.12" fill="#22b838"/>
<circle cx="291.08" cy="598.69" r="1.12" fill="#22b838"/>
<circle cx="290.77" cy="597.19" r="1.12" fill="#22b838"/>
<circle cx="294.27" cy="592.99" r="1.12" fill="#22b838"/>
<circle cx="291.84" cy="579.43" r="1.12" fill="#22b838"/>
<circle cx="293.86" cy="577.56" r="1.12" fill="#22b838"/>
<circle cx="291.13" cy="597.35" r="1.12" fill="#22b838"/>
<circle cx="292.45" cy="602.30" r="1.12" fill="#22b838"/>
<circle cx="291.00" cy="558.50" r="1.12" fill="#22b838"/>
<rect x="54" y="496.6" width="257.1" height="174.0" class="fr"/>
<line x1="93.50" y1="670.60" x2="93.50" y2="673.60" class="ax"/>
<text x="0" y="0" class="tx" text-anchor="middle" transform="translate(93.50,683.40) scale(0.96,1)">LPI(16:0)</text>
<line x1="153.30" y1="670.60" x2="153.30" y2="673.60" class="ax"/>
<text x="0" y="0" class="tx" text-anchor="middle" transform="translate(153.30,683.40) scale(0.96,1)">LPI(18:0)</text>
<line x1="213.10" y1="670.60" x2="213.10" y2="673.60" class="ax"/>
<text x="0" y="0" class="tx" text-anchor="middle" transform="translate(213.10,683.40) scale(0.96,1)">LPI(18:1)</text>
<line x1="272.90" y1="670.60" x2="272.90" y2="673.60" class="ax"/>
<text x="0" y="0" class="tx" text-anchor="middle" transform="translate(272.90,683.40) scale(0.96,1)">LPI(20:4)</text>
<rect x="0" y="0" width="520" height="1" fill="#000"/><rect x="0" y="0" width="1.1" height="691" fill="#000"/><rect x="518.8" y="0" width="1.2" height="691" fill="#000"/><rect x="0" y="690" width="520" height="1" fill="#000"/>
</svg>
</body></html>
